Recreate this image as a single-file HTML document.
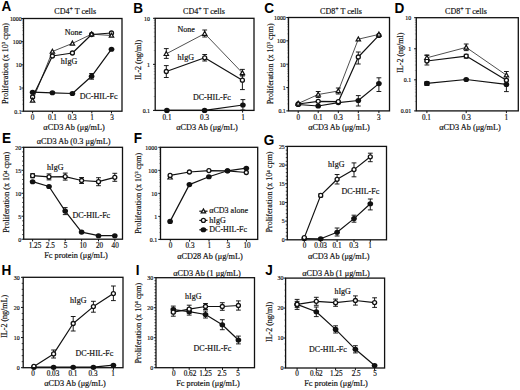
<!DOCTYPE html><html><head><meta charset="utf-8"><style>html,body{margin:0;padding:0;background:#fff;width:520px;height:390px;overflow:hidden}svg{display:block}</style></head><body>
<svg width="520" height="390" viewBox="0 0 520 390">
<style>text{stroke:#111;stroke-width:0.18px;paint-order:stroke}</style>
<rect width="520" height="390" fill="#fff"/>
<line x1="32.6" y1="111.2" x2="32.6" y2="113.4" stroke="#111" stroke-width="1"/>
<text x="32.5" y="120.4" font-size="7.2" text-anchor="middle" font-weight="normal" font-family='"Liberation Serif", serif' fill="#111">0</text>
<line x1="52.4" y1="111.2" x2="52.4" y2="113.4" stroke="#111" stroke-width="1"/>
<text x="52.4" y="120.4" font-size="7.2" text-anchor="middle" font-weight="normal" font-family='"Liberation Serif", serif' fill="#111">0.1</text>
<line x1="72.4" y1="111.2" x2="72.4" y2="113.4" stroke="#111" stroke-width="1"/>
<text x="72.2" y="120.4" font-size="7.2" text-anchor="middle" font-weight="normal" font-family='"Liberation Serif", serif' fill="#111">0.3</text>
<line x1="91.8" y1="111.2" x2="91.8" y2="113.4" stroke="#111" stroke-width="1"/>
<text x="92" y="120.4" font-size="7.2" text-anchor="middle" font-weight="normal" font-family='"Liberation Serif", serif' fill="#111">1</text>
<line x1="111.5" y1="111.2" x2="111.5" y2="113.4" stroke="#111" stroke-width="1"/>
<text x="112" y="120.4" font-size="7.2" text-anchor="middle" font-weight="normal" font-family='"Liberation Serif", serif' fill="#111">3</text>
<line x1="21.3" y1="111.2" x2="23.5" y2="111.2" stroke="#111" stroke-width="1"/>
<text x="21.7" y="113.5" font-size="5.9" text-anchor="end" font-weight="normal" font-family='"Liberation Serif", serif' fill="#111">0.1</text>
<line x1="21.3" y1="88.03" x2="23.5" y2="88.03" stroke="#111" stroke-width="1"/>
<text x="21.7" y="90.33" font-size="5.9" text-anchor="end" font-weight="normal" font-family='"Liberation Serif", serif' fill="#111">1</text>
<line x1="21.3" y1="64.85" x2="23.5" y2="64.85" stroke="#111" stroke-width="1"/>
<text x="21.7" y="67.15" font-size="5.9" text-anchor="end" font-weight="normal" font-family='"Liberation Serif", serif' fill="#111">10</text>
<line x1="21.3" y1="41.67" x2="23.5" y2="41.67" stroke="#111" stroke-width="1"/>
<text x="21.7" y="43.97" font-size="5.9" text-anchor="end" font-weight="normal" font-family='"Liberation Serif", serif' fill="#111">100</text>
<line x1="21.3" y1="18.5" x2="23.5" y2="18.5" stroke="#111" stroke-width="1"/>
<text x="21.7" y="20.8" font-size="5.9" text-anchor="end" font-weight="normal" font-family='"Liberation Serif", serif' fill="#111">1000</text>
<line x1="22" y1="104.22" x2="23.5" y2="104.22" stroke="#999" stroke-width="0.6"/>
<line x1="22" y1="100.14" x2="23.5" y2="100.14" stroke="#999" stroke-width="0.6"/>
<line x1="22" y1="97.25" x2="23.5" y2="97.25" stroke="#999" stroke-width="0.6"/>
<line x1="22" y1="95" x2="23.5" y2="95" stroke="#999" stroke-width="0.6"/>
<line x1="22" y1="93.17" x2="23.5" y2="93.17" stroke="#999" stroke-width="0.6"/>
<line x1="22" y1="91.61" x2="23.5" y2="91.61" stroke="#999" stroke-width="0.6"/>
<line x1="22" y1="90.27" x2="23.5" y2="90.27" stroke="#999" stroke-width="0.6"/>
<line x1="22" y1="89.09" x2="23.5" y2="89.09" stroke="#999" stroke-width="0.6"/>
<line x1="22" y1="81.05" x2="23.5" y2="81.05" stroke="#999" stroke-width="0.6"/>
<line x1="22" y1="76.97" x2="23.5" y2="76.97" stroke="#999" stroke-width="0.6"/>
<line x1="22" y1="74.07" x2="23.5" y2="74.07" stroke="#999" stroke-width="0.6"/>
<line x1="22" y1="71.83" x2="23.5" y2="71.83" stroke="#999" stroke-width="0.6"/>
<line x1="22" y1="69.99" x2="23.5" y2="69.99" stroke="#999" stroke-width="0.6"/>
<line x1="22" y1="68.44" x2="23.5" y2="68.44" stroke="#999" stroke-width="0.6"/>
<line x1="22" y1="67.1" x2="23.5" y2="67.1" stroke="#999" stroke-width="0.6"/>
<line x1="22" y1="65.91" x2="23.5" y2="65.91" stroke="#999" stroke-width="0.6"/>
<line x1="22" y1="57.87" x2="23.5" y2="57.87" stroke="#999" stroke-width="0.6"/>
<line x1="22" y1="53.79" x2="23.5" y2="53.79" stroke="#999" stroke-width="0.6"/>
<line x1="22" y1="50.9" x2="23.5" y2="50.9" stroke="#999" stroke-width="0.6"/>
<line x1="22" y1="48.65" x2="23.5" y2="48.65" stroke="#999" stroke-width="0.6"/>
<line x1="22" y1="46.82" x2="23.5" y2="46.82" stroke="#999" stroke-width="0.6"/>
<line x1="22" y1="45.26" x2="23.5" y2="45.26" stroke="#999" stroke-width="0.6"/>
<line x1="22" y1="43.92" x2="23.5" y2="43.92" stroke="#999" stroke-width="0.6"/>
<line x1="22" y1="42.74" x2="23.5" y2="42.74" stroke="#999" stroke-width="0.6"/>
<line x1="22" y1="34.7" x2="23.5" y2="34.7" stroke="#999" stroke-width="0.6"/>
<line x1="22" y1="30.62" x2="23.5" y2="30.62" stroke="#999" stroke-width="0.6"/>
<line x1="22" y1="27.72" x2="23.5" y2="27.72" stroke="#999" stroke-width="0.6"/>
<line x1="22" y1="25.48" x2="23.5" y2="25.48" stroke="#999" stroke-width="0.6"/>
<line x1="22" y1="23.64" x2="23.5" y2="23.64" stroke="#999" stroke-width="0.6"/>
<line x1="22" y1="22.09" x2="23.5" y2="22.09" stroke="#999" stroke-width="0.6"/>
<line x1="22" y1="20.75" x2="23.5" y2="20.75" stroke="#999" stroke-width="0.6"/>
<line x1="22" y1="19.56" x2="23.5" y2="19.56" stroke="#999" stroke-width="0.6"/>
<polyline points="32.6,100.5 52.4,51.5 72.4,43.4 91.6,34.2 111.5,35.5" fill="none" stroke="#505050" stroke-width="1.0" stroke-linejoin="round"/>
<polyline points="32.6,97 52.4,56 72.4,53 91.6,34.5 111.5,33" fill="none" stroke="#111" stroke-width="1.2" stroke-linejoin="round"/>
<polyline points="32.6,92.2 52.4,92.8 72.4,93.5 91.6,76.3 111.5,49.2" fill="none" stroke="#111" stroke-width="1.2" stroke-linejoin="round"/>
<line x1="91.6" y1="73.5" x2="91.6" y2="79.2" stroke="#111" stroke-width="0.95"/>
<line x1="89.2" y1="73.5" x2="94" y2="73.5" stroke="#111" stroke-width="0.95"/>
<line x1="89.2" y1="79.2" x2="94" y2="79.2" stroke="#111" stroke-width="0.95"/>
<circle cx="32.6" cy="97" r="2" fill="#fff" stroke="#111" stroke-width="1.3"/>
<circle cx="52.4" cy="56" r="2" fill="#fff" stroke="#111" stroke-width="1.3"/>
<circle cx="72.4" cy="53" r="2" fill="#fff" stroke="#111" stroke-width="1.3"/>
<circle cx="91.6" cy="34.5" r="2" fill="#fff" stroke="#111" stroke-width="1.3"/>
<circle cx="111.5" cy="33" r="2" fill="#fff" stroke="#111" stroke-width="1.3"/>
<ellipse cx="32.6" cy="92.2" rx="2.85" ry="2.55" fill="#111"/>
<ellipse cx="52.4" cy="92.8" rx="2.85" ry="2.55" fill="#111"/>
<ellipse cx="72.4" cy="93.5" rx="2.85" ry="2.55" fill="#111"/>
<ellipse cx="91.6" cy="76.3" rx="2.85" ry="2.55" fill="#111"/>
<ellipse cx="111.5" cy="49.2" rx="2.85" ry="2.55" fill="#111"/>
<polygon points="32.6,98.2 34.8,102.2 30.4,102.2" fill="#fff" stroke="#111" stroke-width="1.2" stroke-linejoin="miter"/>
<polygon points="52.4,49.2 54.6,53.2 50.2,53.2" fill="#fff" stroke="#111" stroke-width="1.2" stroke-linejoin="miter"/>
<polygon points="72.4,41.1 74.6,45.1 70.2,45.1" fill="#fff" stroke="#111" stroke-width="1.2" stroke-linejoin="miter"/>
<polygon points="91.6,31.9 93.8,35.9 89.4,35.9" fill="#fff" stroke="#111" stroke-width="1.2" stroke-linejoin="miter"/>
<polygon points="111.5,33.2 113.7,37.2 109.3,37.2" fill="#fff" stroke="#111" stroke-width="1.2" stroke-linejoin="miter"/>
<rect x="23.5" y="18.5" width="98.5" height="92.7" fill="none" stroke="#111" stroke-width="1.3"/>
<text x="64.7" y="34.6" font-size="8" text-anchor="start" font-weight="normal" font-family='"Liberation Serif", serif' fill="#111">None</text>
<text x="60.8" y="63.8" font-size="8" text-anchor="start" font-weight="normal" font-family='"Liberation Serif", serif' fill="#111">hIgG</text>
<text x="79.7" y="99" font-size="8" text-anchor="start" font-weight="normal" font-family='"Liberation Serif", serif' fill="#111">DC-HIL-Fc</text>
<line x1="166.5" y1="110.4" x2="166.5" y2="112.6" stroke="#111" stroke-width="1"/>
<text x="167" y="119.9" font-size="7.2" text-anchor="middle" font-weight="normal" font-family='"Liberation Serif", serif' fill="#111">0.1</text>
<line x1="204.7" y1="110.4" x2="204.7" y2="112.6" stroke="#111" stroke-width="1"/>
<text x="204.6" y="119.9" font-size="7.2" text-anchor="middle" font-weight="normal" font-family='"Liberation Serif", serif' fill="#111">0.3</text>
<line x1="242.6" y1="110.4" x2="242.6" y2="112.6" stroke="#111" stroke-width="1"/>
<text x="243" y="119.9" font-size="7.2" text-anchor="middle" font-weight="normal" font-family='"Liberation Serif", serif' fill="#111">1</text>
<line x1="153" y1="110.4" x2="155.2" y2="110.4" stroke="#111" stroke-width="1"/>
<text x="150" y="112.7" font-size="5.9" text-anchor="end" font-weight="normal" font-family='"Liberation Serif", serif' fill="#111">0.1</text>
<line x1="153" y1="64.35" x2="155.2" y2="64.35" stroke="#111" stroke-width="1"/>
<text x="150" y="66.65" font-size="5.9" text-anchor="end" font-weight="normal" font-family='"Liberation Serif", serif' fill="#111">1</text>
<line x1="153" y1="18.3" x2="155.2" y2="18.3" stroke="#111" stroke-width="1"/>
<text x="150" y="20.6" font-size="5.9" text-anchor="end" font-weight="normal" font-family='"Liberation Serif", serif' fill="#111">10</text>
<line x1="153.7" y1="96.54" x2="155.2" y2="96.54" stroke="#999" stroke-width="0.6"/>
<line x1="153.7" y1="88.43" x2="155.2" y2="88.43" stroke="#999" stroke-width="0.6"/>
<line x1="153.7" y1="82.68" x2="155.2" y2="82.68" stroke="#999" stroke-width="0.6"/>
<line x1="153.7" y1="78.21" x2="155.2" y2="78.21" stroke="#999" stroke-width="0.6"/>
<line x1="153.7" y1="74.57" x2="155.2" y2="74.57" stroke="#999" stroke-width="0.6"/>
<line x1="153.7" y1="71.48" x2="155.2" y2="71.48" stroke="#999" stroke-width="0.6"/>
<line x1="153.7" y1="68.81" x2="155.2" y2="68.81" stroke="#999" stroke-width="0.6"/>
<line x1="153.7" y1="66.46" x2="155.2" y2="66.46" stroke="#999" stroke-width="0.6"/>
<line x1="153.7" y1="50.49" x2="155.2" y2="50.49" stroke="#999" stroke-width="0.6"/>
<line x1="153.7" y1="42.38" x2="155.2" y2="42.38" stroke="#999" stroke-width="0.6"/>
<line x1="153.7" y1="36.63" x2="155.2" y2="36.63" stroke="#999" stroke-width="0.6"/>
<line x1="153.7" y1="32.16" x2="155.2" y2="32.16" stroke="#999" stroke-width="0.6"/>
<line x1="153.7" y1="28.52" x2="155.2" y2="28.52" stroke="#999" stroke-width="0.6"/>
<line x1="153.7" y1="25.43" x2="155.2" y2="25.43" stroke="#999" stroke-width="0.6"/>
<line x1="153.7" y1="22.76" x2="155.2" y2="22.76" stroke="#999" stroke-width="0.6"/>
<line x1="153.7" y1="20.41" x2="155.2" y2="20.41" stroke="#999" stroke-width="0.6"/>
<polyline points="166.3,53.8 204.7,33.6 242.4,72.9" fill="none" stroke="#505050" stroke-width="1.0" stroke-linejoin="round"/>
<polyline points="166.3,71.5 204.7,57.8 242.4,80.2" fill="none" stroke="#111" stroke-width="1.2" stroke-linejoin="round"/>
<polyline points="166.9,110.4 204.6,110.4 242.9,105" fill="none" stroke="#111" stroke-width="1.2" stroke-linejoin="round"/>
<line x1="166.3" y1="48.6" x2="166.3" y2="58.4" stroke="#111" stroke-width="0.95"/>
<line x1="163.9" y1="48.6" x2="168.7" y2="48.6" stroke="#111" stroke-width="0.95"/>
<line x1="163.9" y1="58.4" x2="168.7" y2="58.4" stroke="#111" stroke-width="0.95"/>
<line x1="204.7" y1="30" x2="204.7" y2="37" stroke="#111" stroke-width="0.95"/>
<line x1="202.3" y1="30" x2="207.1" y2="30" stroke="#111" stroke-width="0.95"/>
<line x1="202.3" y1="37" x2="207.1" y2="37" stroke="#111" stroke-width="0.95"/>
<line x1="242.4" y1="69.4" x2="242.4" y2="76" stroke="#111" stroke-width="0.95"/>
<line x1="240" y1="69.4" x2="244.8" y2="69.4" stroke="#111" stroke-width="0.95"/>
<line x1="240" y1="76" x2="244.8" y2="76" stroke="#111" stroke-width="0.95"/>
<line x1="166.3" y1="65.6" x2="166.3" y2="77.5" stroke="#111" stroke-width="0.95"/>
<line x1="163.9" y1="65.6" x2="168.7" y2="65.6" stroke="#111" stroke-width="0.95"/>
<line x1="163.9" y1="77.5" x2="168.7" y2="77.5" stroke="#111" stroke-width="0.95"/>
<line x1="204.7" y1="54.5" x2="204.7" y2="61" stroke="#111" stroke-width="0.95"/>
<line x1="202.3" y1="54.5" x2="207.1" y2="54.5" stroke="#111" stroke-width="0.95"/>
<line x1="202.3" y1="61" x2="207.1" y2="61" stroke="#111" stroke-width="0.95"/>
<line x1="242.4" y1="75" x2="242.4" y2="89.6" stroke="#111" stroke-width="0.95"/>
<line x1="240" y1="75" x2="244.8" y2="75" stroke="#111" stroke-width="0.95"/>
<line x1="240" y1="89.6" x2="244.8" y2="89.6" stroke="#111" stroke-width="0.95"/>
<line x1="242.9" y1="99.6" x2="242.9" y2="110" stroke="#111" stroke-width="0.95"/>
<line x1="240.5" y1="99.6" x2="245.3" y2="99.6" stroke="#111" stroke-width="0.95"/>
<line x1="240.5" y1="110" x2="245.3" y2="110" stroke="#111" stroke-width="0.95"/>
<circle cx="166.3" cy="71.5" r="2" fill="#fff" stroke="#111" stroke-width="1.3"/>
<circle cx="204.7" cy="57.8" r="2" fill="#fff" stroke="#111" stroke-width="1.3"/>
<circle cx="242.4" cy="80.2" r="2" fill="#fff" stroke="#111" stroke-width="1.3"/>
<ellipse cx="166.9" cy="110.4" rx="2.85" ry="2.55" fill="#111"/>
<ellipse cx="204.6" cy="110.4" rx="2.85" ry="2.55" fill="#111"/>
<ellipse cx="242.9" cy="105" rx="2.85" ry="2.55" fill="#111"/>
<polygon points="166.3,51.5 168.5,55.5 164.1,55.5" fill="#fff" stroke="#111" stroke-width="1.2" stroke-linejoin="miter"/>
<polygon points="204.7,31.3 206.9,35.3 202.5,35.3" fill="#fff" stroke="#111" stroke-width="1.2" stroke-linejoin="miter"/>
<polygon points="242.4,70.6 244.6,74.6 240.2,74.6" fill="#fff" stroke="#111" stroke-width="1.2" stroke-linejoin="miter"/>
<rect x="155.2" y="18.3" width="98.8" height="92.1" fill="none" stroke="#111" stroke-width="1.3"/>
<text x="177.5" y="31.8" font-size="8" text-anchor="start" font-weight="normal" font-family='"Liberation Serif", serif' fill="#111">None</text>
<text x="177.5" y="59.5" font-size="8" text-anchor="start" font-weight="normal" font-family='"Liberation Serif", serif' fill="#111">hIgG</text>
<text x="193" y="99.5" font-size="8" text-anchor="start" font-weight="normal" font-family='"Liberation Serif", serif' fill="#111">DC-HIL-Fc</text>
<line x1="298.2" y1="110.9" x2="298.2" y2="113.1" stroke="#111" stroke-width="1"/>
<text x="298.3" y="120.1" font-size="7.2" text-anchor="middle" font-weight="normal" font-family='"Liberation Serif", serif' fill="#111">0</text>
<line x1="318.2" y1="110.9" x2="318.2" y2="113.1" stroke="#111" stroke-width="1"/>
<text x="318.1" y="120.1" font-size="7.2" text-anchor="middle" font-weight="normal" font-family='"Liberation Serif", serif' fill="#111">0.1</text>
<line x1="338.3" y1="110.9" x2="338.3" y2="113.1" stroke="#111" stroke-width="1"/>
<text x="338.3" y="120.1" font-size="7.2" text-anchor="middle" font-weight="normal" font-family='"Liberation Serif", serif' fill="#111">0.3</text>
<line x1="358.3" y1="110.9" x2="358.3" y2="113.1" stroke="#111" stroke-width="1"/>
<text x="358.6" y="120.1" font-size="7.2" text-anchor="middle" font-weight="normal" font-family='"Liberation Serif", serif' fill="#111">1</text>
<line x1="378.9" y1="110.9" x2="378.9" y2="113.1" stroke="#111" stroke-width="1"/>
<text x="378.8" y="120.1" font-size="7.2" text-anchor="middle" font-weight="normal" font-family='"Liberation Serif", serif' fill="#111">3</text>
<line x1="286.3" y1="110.9" x2="288.5" y2="110.9" stroke="#111" stroke-width="1"/>
<text x="285.8" y="113.2" font-size="5.9" text-anchor="end" font-weight="normal" font-family='"Liberation Serif", serif' fill="#111">0.1</text>
<line x1="286.3" y1="87.55" x2="288.5" y2="87.55" stroke="#111" stroke-width="1"/>
<text x="285.8" y="89.85" font-size="5.9" text-anchor="end" font-weight="normal" font-family='"Liberation Serif", serif' fill="#111">1</text>
<line x1="286.3" y1="64.2" x2="288.5" y2="64.2" stroke="#111" stroke-width="1"/>
<text x="285.8" y="66.5" font-size="5.9" text-anchor="end" font-weight="normal" font-family='"Liberation Serif", serif' fill="#111">10</text>
<line x1="286.3" y1="40.85" x2="288.5" y2="40.85" stroke="#111" stroke-width="1"/>
<text x="285.8" y="43.15" font-size="5.9" text-anchor="end" font-weight="normal" font-family='"Liberation Serif", serif' fill="#111">100</text>
<line x1="286.3" y1="17.5" x2="288.5" y2="17.5" stroke="#111" stroke-width="1"/>
<text x="285.8" y="19.8" font-size="5.9" text-anchor="end" font-weight="normal" font-family='"Liberation Serif", serif' fill="#111">1000</text>
<line x1="287" y1="103.87" x2="288.5" y2="103.87" stroke="#999" stroke-width="0.6"/>
<line x1="287" y1="99.76" x2="288.5" y2="99.76" stroke="#999" stroke-width="0.6"/>
<line x1="287" y1="96.84" x2="288.5" y2="96.84" stroke="#999" stroke-width="0.6"/>
<line x1="287" y1="94.58" x2="288.5" y2="94.58" stroke="#999" stroke-width="0.6"/>
<line x1="287" y1="92.73" x2="288.5" y2="92.73" stroke="#999" stroke-width="0.6"/>
<line x1="287" y1="91.17" x2="288.5" y2="91.17" stroke="#999" stroke-width="0.6"/>
<line x1="287" y1="89.81" x2="288.5" y2="89.81" stroke="#999" stroke-width="0.6"/>
<line x1="287" y1="88.62" x2="288.5" y2="88.62" stroke="#999" stroke-width="0.6"/>
<line x1="287" y1="80.52" x2="288.5" y2="80.52" stroke="#999" stroke-width="0.6"/>
<line x1="287" y1="76.41" x2="288.5" y2="76.41" stroke="#999" stroke-width="0.6"/>
<line x1="287" y1="73.49" x2="288.5" y2="73.49" stroke="#999" stroke-width="0.6"/>
<line x1="287" y1="71.23" x2="288.5" y2="71.23" stroke="#999" stroke-width="0.6"/>
<line x1="287" y1="69.38" x2="288.5" y2="69.38" stroke="#999" stroke-width="0.6"/>
<line x1="287" y1="67.82" x2="288.5" y2="67.82" stroke="#999" stroke-width="0.6"/>
<line x1="287" y1="66.46" x2="288.5" y2="66.46" stroke="#999" stroke-width="0.6"/>
<line x1="287" y1="65.27" x2="288.5" y2="65.27" stroke="#999" stroke-width="0.6"/>
<line x1="287" y1="57.17" x2="288.5" y2="57.17" stroke="#999" stroke-width="0.6"/>
<line x1="287" y1="53.06" x2="288.5" y2="53.06" stroke="#999" stroke-width="0.6"/>
<line x1="287" y1="50.14" x2="288.5" y2="50.14" stroke="#999" stroke-width="0.6"/>
<line x1="287" y1="47.88" x2="288.5" y2="47.88" stroke="#999" stroke-width="0.6"/>
<line x1="287" y1="46.03" x2="288.5" y2="46.03" stroke="#999" stroke-width="0.6"/>
<line x1="287" y1="44.47" x2="288.5" y2="44.47" stroke="#999" stroke-width="0.6"/>
<line x1="287" y1="43.11" x2="288.5" y2="43.11" stroke="#999" stroke-width="0.6"/>
<line x1="287" y1="41.92" x2="288.5" y2="41.92" stroke="#999" stroke-width="0.6"/>
<line x1="287" y1="33.82" x2="288.5" y2="33.82" stroke="#999" stroke-width="0.6"/>
<line x1="287" y1="29.71" x2="288.5" y2="29.71" stroke="#999" stroke-width="0.6"/>
<line x1="287" y1="26.79" x2="288.5" y2="26.79" stroke="#999" stroke-width="0.6"/>
<line x1="287" y1="24.53" x2="288.5" y2="24.53" stroke="#999" stroke-width="0.6"/>
<line x1="287" y1="22.68" x2="288.5" y2="22.68" stroke="#999" stroke-width="0.6"/>
<line x1="287" y1="21.12" x2="288.5" y2="21.12" stroke="#999" stroke-width="0.6"/>
<line x1="287" y1="19.76" x2="288.5" y2="19.76" stroke="#999" stroke-width="0.6"/>
<line x1="287" y1="18.57" x2="288.5" y2="18.57" stroke="#999" stroke-width="0.6"/>
<polyline points="298.2,103.5 318.2,94.5 338.3,91 358.3,39.2 378.9,34.4" fill="none" stroke="#505050" stroke-width="1.0" stroke-linejoin="round"/>
<polyline points="298.2,104 318.2,101.3 338.3,101.7 358.3,57 378.9,35.4" fill="none" stroke="#111" stroke-width="1.2" stroke-linejoin="round"/>
<polyline points="298.2,104.5 318.2,106 338.3,102.6 358.3,100.5 378.9,83.6" fill="none" stroke="#111" stroke-width="1.2" stroke-linejoin="round"/>
<line x1="318.2" y1="91.5" x2="318.2" y2="97.5" stroke="#111" stroke-width="0.95"/>
<line x1="315.8" y1="91.5" x2="320.6" y2="91.5" stroke="#111" stroke-width="0.95"/>
<line x1="315.8" y1="97.5" x2="320.6" y2="97.5" stroke="#111" stroke-width="0.95"/>
<line x1="338.3" y1="88" x2="338.3" y2="94" stroke="#111" stroke-width="0.95"/>
<line x1="335.9" y1="88" x2="340.7" y2="88" stroke="#111" stroke-width="0.95"/>
<line x1="335.9" y1="94" x2="340.7" y2="94" stroke="#111" stroke-width="0.95"/>
<line x1="358.3" y1="52" x2="358.3" y2="64" stroke="#111" stroke-width="0.95"/>
<line x1="355.9" y1="52" x2="360.7" y2="52" stroke="#111" stroke-width="0.95"/>
<line x1="355.9" y1="64" x2="360.7" y2="64" stroke="#111" stroke-width="0.95"/>
<line x1="358.3" y1="95.6" x2="358.3" y2="106" stroke="#111" stroke-width="0.95"/>
<line x1="355.9" y1="95.6" x2="360.7" y2="95.6" stroke="#111" stroke-width="0.95"/>
<line x1="355.9" y1="106" x2="360.7" y2="106" stroke="#111" stroke-width="0.95"/>
<line x1="378.9" y1="77.8" x2="378.9" y2="91.5" stroke="#111" stroke-width="0.95"/>
<line x1="376.5" y1="77.8" x2="381.3" y2="77.8" stroke="#111" stroke-width="0.95"/>
<line x1="376.5" y1="91.5" x2="381.3" y2="91.5" stroke="#111" stroke-width="0.95"/>
<ellipse cx="298.2" cy="104.5" rx="2.85" ry="2.55" fill="#111"/>
<ellipse cx="318.2" cy="106" rx="2.85" ry="2.55" fill="#111"/>
<ellipse cx="338.3" cy="102.6" rx="2.85" ry="2.55" fill="#111"/>
<ellipse cx="358.3" cy="100.5" rx="2.85" ry="2.55" fill="#111"/>
<ellipse cx="378.9" cy="83.6" rx="2.85" ry="2.55" fill="#111"/>
<circle cx="298.2" cy="104" r="2" fill="#fff" stroke="#111" stroke-width="1.3"/>
<circle cx="318.2" cy="101.3" r="2" fill="#fff" stroke="#111" stroke-width="1.3"/>
<circle cx="338.3" cy="101.7" r="2" fill="#fff" stroke="#111" stroke-width="1.3"/>
<circle cx="358.3" cy="57" r="2" fill="#fff" stroke="#111" stroke-width="1.3"/>
<circle cx="378.9" cy="35.4" r="2" fill="#fff" stroke="#111" stroke-width="1.3"/>
<polygon points="298.2,101.2 300.4,105.2 296,105.2" fill="#fff" stroke="#111" stroke-width="1.2" stroke-linejoin="miter"/>
<polygon points="318.2,92.2 320.4,96.2 316,96.2" fill="#fff" stroke="#111" stroke-width="1.2" stroke-linejoin="miter"/>
<polygon points="338.3,88.7 340.5,92.7 336.1,92.7" fill="#fff" stroke="#111" stroke-width="1.2" stroke-linejoin="miter"/>
<polygon points="358.3,36.9 360.5,40.9 356.1,40.9" fill="#fff" stroke="#111" stroke-width="1.2" stroke-linejoin="miter"/>
<polygon points="378.9,32.1 381.1,36.1 376.7,36.1" fill="#fff" stroke="#111" stroke-width="1.2" stroke-linejoin="miter"/>
<rect x="288.5" y="17.5" width="101" height="93.4" fill="none" stroke="#111" stroke-width="1.3"/>
<line x1="426.9" y1="110.9" x2="426.9" y2="113.1" stroke="#111" stroke-width="1"/>
<text x="426.4" y="119.9" font-size="7.2" text-anchor="middle" font-weight="normal" font-family='"Liberation Serif", serif' fill="#111">0.1</text>
<line x1="466.2" y1="110.9" x2="466.2" y2="113.1" stroke="#111" stroke-width="1"/>
<text x="466.3" y="119.9" font-size="7.2" text-anchor="middle" font-weight="normal" font-family='"Liberation Serif", serif' fill="#111">0.3</text>
<line x1="506.4" y1="110.9" x2="506.4" y2="113.1" stroke="#111" stroke-width="1"/>
<text x="506.3" y="119.9" font-size="7.2" text-anchor="middle" font-weight="normal" font-family='"Liberation Serif", serif' fill="#111">1</text>
<line x1="414.1" y1="110.9" x2="416.3" y2="110.9" stroke="#111" stroke-width="1"/>
<text x="411.1" y="113.2" font-size="5.9" text-anchor="end" font-weight="normal" font-family='"Liberation Serif", serif' fill="#111">0.01</text>
<line x1="414.1" y1="79.83" x2="416.3" y2="79.83" stroke="#111" stroke-width="1"/>
<text x="411.1" y="82.13" font-size="5.9" text-anchor="end" font-weight="normal" font-family='"Liberation Serif", serif' fill="#111">0.1</text>
<line x1="414.1" y1="48.77" x2="416.3" y2="48.77" stroke="#111" stroke-width="1"/>
<text x="411.1" y="51.07" font-size="5.9" text-anchor="end" font-weight="normal" font-family='"Liberation Serif", serif' fill="#111">1</text>
<line x1="414.1" y1="17.7" x2="416.3" y2="17.7" stroke="#111" stroke-width="1"/>
<text x="411.1" y="20" font-size="5.9" text-anchor="end" font-weight="normal" font-family='"Liberation Serif", serif' fill="#111">10</text>
<line x1="414.8" y1="101.55" x2="416.3" y2="101.55" stroke="#999" stroke-width="0.6"/>
<line x1="414.8" y1="96.08" x2="416.3" y2="96.08" stroke="#999" stroke-width="0.6"/>
<line x1="414.8" y1="92.2" x2="416.3" y2="92.2" stroke="#999" stroke-width="0.6"/>
<line x1="414.8" y1="89.19" x2="416.3" y2="89.19" stroke="#999" stroke-width="0.6"/>
<line x1="414.8" y1="86.73" x2="416.3" y2="86.73" stroke="#999" stroke-width="0.6"/>
<line x1="414.8" y1="84.65" x2="416.3" y2="84.65" stroke="#999" stroke-width="0.6"/>
<line x1="414.8" y1="82.84" x2="416.3" y2="82.84" stroke="#999" stroke-width="0.6"/>
<line x1="414.8" y1="81.25" x2="416.3" y2="81.25" stroke="#999" stroke-width="0.6"/>
<line x1="414.8" y1="70.48" x2="416.3" y2="70.48" stroke="#999" stroke-width="0.6"/>
<line x1="414.8" y1="65.01" x2="416.3" y2="65.01" stroke="#999" stroke-width="0.6"/>
<line x1="414.8" y1="61.13" x2="416.3" y2="61.13" stroke="#999" stroke-width="0.6"/>
<line x1="414.8" y1="58.12" x2="416.3" y2="58.12" stroke="#999" stroke-width="0.6"/>
<line x1="414.8" y1="55.66" x2="416.3" y2="55.66" stroke="#999" stroke-width="0.6"/>
<line x1="414.8" y1="53.58" x2="416.3" y2="53.58" stroke="#999" stroke-width="0.6"/>
<line x1="414.8" y1="51.78" x2="416.3" y2="51.78" stroke="#999" stroke-width="0.6"/>
<line x1="414.8" y1="50.19" x2="416.3" y2="50.19" stroke="#999" stroke-width="0.6"/>
<line x1="414.8" y1="39.41" x2="416.3" y2="39.41" stroke="#999" stroke-width="0.6"/>
<line x1="414.8" y1="33.94" x2="416.3" y2="33.94" stroke="#999" stroke-width="0.6"/>
<line x1="414.8" y1="30.06" x2="416.3" y2="30.06" stroke="#999" stroke-width="0.6"/>
<line x1="414.8" y1="27.05" x2="416.3" y2="27.05" stroke="#999" stroke-width="0.6"/>
<line x1="414.8" y1="24.59" x2="416.3" y2="24.59" stroke="#999" stroke-width="0.6"/>
<line x1="414.8" y1="22.51" x2="416.3" y2="22.51" stroke="#999" stroke-width="0.6"/>
<line x1="414.8" y1="20.71" x2="416.3" y2="20.71" stroke="#999" stroke-width="0.6"/>
<line x1="414.8" y1="19.12" x2="416.3" y2="19.12" stroke="#999" stroke-width="0.6"/>
<polyline points="426.9,57.8 466.2,47.4 506.4,75.2" fill="none" stroke="#505050" stroke-width="1.0" stroke-linejoin="round"/>
<polyline points="426.9,61 466.2,56.1 506.4,80.3" fill="none" stroke="#111" stroke-width="1.2" stroke-linejoin="round"/>
<polyline points="426.9,83.4 466.2,79.5 506.4,84.4" fill="none" stroke="#111" stroke-width="1.2" stroke-linejoin="round"/>
<line x1="426.9" y1="55" x2="426.9" y2="61" stroke="#111" stroke-width="0.95"/>
<line x1="424.5" y1="55" x2="429.3" y2="55" stroke="#111" stroke-width="0.95"/>
<line x1="424.5" y1="61" x2="429.3" y2="61" stroke="#111" stroke-width="0.95"/>
<line x1="466.2" y1="44" x2="466.2" y2="50.6" stroke="#111" stroke-width="0.95"/>
<line x1="463.8" y1="44" x2="468.6" y2="44" stroke="#111" stroke-width="0.95"/>
<line x1="463.8" y1="50.6" x2="468.6" y2="50.6" stroke="#111" stroke-width="0.95"/>
<line x1="506.4" y1="71.5" x2="506.4" y2="79" stroke="#111" stroke-width="0.95"/>
<line x1="504" y1="71.5" x2="508.8" y2="71.5" stroke="#111" stroke-width="0.95"/>
<line x1="504" y1="79" x2="508.8" y2="79" stroke="#111" stroke-width="0.95"/>
<line x1="426.9" y1="55.4" x2="426.9" y2="65" stroke="#111" stroke-width="0.95"/>
<line x1="424.5" y1="55.4" x2="429.3" y2="55.4" stroke="#111" stroke-width="0.95"/>
<line x1="424.5" y1="65" x2="429.3" y2="65" stroke="#111" stroke-width="0.95"/>
<line x1="466.2" y1="54.3" x2="466.2" y2="58.2" stroke="#111" stroke-width="0.95"/>
<line x1="463.8" y1="54.3" x2="468.6" y2="54.3" stroke="#111" stroke-width="0.95"/>
<line x1="463.8" y1="58.2" x2="468.6" y2="58.2" stroke="#111" stroke-width="0.95"/>
<line x1="506.4" y1="79.5" x2="506.4" y2="91.6" stroke="#111" stroke-width="0.95"/>
<line x1="504" y1="79.5" x2="508.8" y2="79.5" stroke="#111" stroke-width="0.95"/>
<line x1="504" y1="91.6" x2="508.8" y2="91.6" stroke="#111" stroke-width="0.95"/>
<circle cx="426.9" cy="61" r="2" fill="#fff" stroke="#111" stroke-width="1.3"/>
<circle cx="466.2" cy="56.1" r="2" fill="#fff" stroke="#111" stroke-width="1.3"/>
<circle cx="506.4" cy="80.3" r="2" fill="#fff" stroke="#111" stroke-width="1.3"/>
<ellipse cx="426.9" cy="83.4" rx="2.85" ry="2.55" fill="#111"/>
<ellipse cx="466.2" cy="79.5" rx="2.85" ry="2.55" fill="#111"/>
<ellipse cx="506.4" cy="84.4" rx="2.85" ry="2.55" fill="#111"/>
<rect x="424.4" y="81.2" width="5" height="4.8" fill="#111"/>
<polygon points="426.9,55.5 429.1,59.5 424.7,59.5" fill="#fff" stroke="#111" stroke-width="1.2" stroke-linejoin="miter"/>
<polygon points="466.2,45.1 468.4,49.1 464,49.1" fill="#fff" stroke="#111" stroke-width="1.2" stroke-linejoin="miter"/>
<polygon points="506.4,72.9 508.6,76.9 504.2,76.9" fill="#fff" stroke="#111" stroke-width="1.2" stroke-linejoin="miter"/>
<rect x="416.3" y="17.7" width="102" height="93.2" fill="none" stroke="#111" stroke-width="1.3"/>
<line x1="32.6" y1="239.2" x2="32.6" y2="241.4" stroke="#111" stroke-width="1"/>
<text x="35" y="247.8" font-size="7.2" text-anchor="middle" font-weight="normal" font-family='"Liberation Serif", serif' fill="#111">1.25</text>
<line x1="49" y1="239.2" x2="49" y2="241.4" stroke="#111" stroke-width="1"/>
<text x="50.3" y="247.8" font-size="7.2" text-anchor="middle" font-weight="normal" font-family='"Liberation Serif", serif' fill="#111">2.5</text>
<line x1="65.2" y1="239.2" x2="65.2" y2="241.4" stroke="#111" stroke-width="1"/>
<text x="65.5" y="247.8" font-size="7.2" text-anchor="middle" font-weight="normal" font-family='"Liberation Serif", serif' fill="#111">5</text>
<line x1="81.6" y1="239.2" x2="81.6" y2="241.4" stroke="#111" stroke-width="1"/>
<text x="83" y="247.8" font-size="7.2" text-anchor="middle" font-weight="normal" font-family='"Liberation Serif", serif' fill="#111">10</text>
<line x1="98.5" y1="239.2" x2="98.5" y2="241.4" stroke="#111" stroke-width="1"/>
<text x="99.5" y="247.8" font-size="7.2" text-anchor="middle" font-weight="normal" font-family='"Liberation Serif", serif' fill="#111">20</text>
<line x1="114.8" y1="239.2" x2="114.8" y2="241.4" stroke="#111" stroke-width="1"/>
<text x="115.2" y="247.8" font-size="7.2" text-anchor="middle" font-weight="normal" font-family='"Liberation Serif", serif' fill="#111">40</text>
<line x1="21.5" y1="239.2" x2="23.7" y2="239.2" stroke="#111" stroke-width="1"/>
<text x="21.2" y="241.5" font-size="5.9" text-anchor="end" font-weight="normal" font-family='"Liberation Serif", serif' fill="#111">0</text>
<line x1="21.5" y1="216.22" x2="23.7" y2="216.22" stroke="#111" stroke-width="1"/>
<text x="21.2" y="218.53" font-size="5.9" text-anchor="end" font-weight="normal" font-family='"Liberation Serif", serif' fill="#111">5</text>
<line x1="21.5" y1="193.25" x2="23.7" y2="193.25" stroke="#111" stroke-width="1"/>
<text x="21.2" y="195.55" font-size="5.9" text-anchor="end" font-weight="normal" font-family='"Liberation Serif", serif' fill="#111">10</text>
<line x1="21.5" y1="170.28" x2="23.7" y2="170.28" stroke="#111" stroke-width="1"/>
<text x="21.2" y="172.58" font-size="5.9" text-anchor="end" font-weight="normal" font-family='"Liberation Serif", serif' fill="#111">15</text>
<line x1="21.5" y1="147.3" x2="23.7" y2="147.3" stroke="#111" stroke-width="1"/>
<text x="21.2" y="149.6" font-size="5.9" text-anchor="end" font-weight="normal" font-family='"Liberation Serif", serif' fill="#111">20</text>
<line x1="22.2" y1="234.6" x2="23.7" y2="234.6" stroke="#111" stroke-width="0.8"/>
<line x1="22.2" y1="230.01" x2="23.7" y2="230.01" stroke="#111" stroke-width="0.8"/>
<line x1="22.2" y1="225.41" x2="23.7" y2="225.41" stroke="#111" stroke-width="0.8"/>
<line x1="22.2" y1="220.82" x2="23.7" y2="220.82" stroke="#111" stroke-width="0.8"/>
<line x1="22.2" y1="211.63" x2="23.7" y2="211.63" stroke="#111" stroke-width="0.8"/>
<line x1="22.2" y1="207.03" x2="23.7" y2="207.03" stroke="#111" stroke-width="0.8"/>
<line x1="22.2" y1="202.44" x2="23.7" y2="202.44" stroke="#111" stroke-width="0.8"/>
<line x1="22.2" y1="197.84" x2="23.7" y2="197.84" stroke="#111" stroke-width="0.8"/>
<line x1="22.2" y1="188.66" x2="23.7" y2="188.66" stroke="#111" stroke-width="0.8"/>
<line x1="22.2" y1="184.06" x2="23.7" y2="184.06" stroke="#111" stroke-width="0.8"/>
<line x1="22.2" y1="179.47" x2="23.7" y2="179.47" stroke="#111" stroke-width="0.8"/>
<line x1="22.2" y1="174.87" x2="23.7" y2="174.87" stroke="#111" stroke-width="0.8"/>
<line x1="22.2" y1="165.68" x2="23.7" y2="165.68" stroke="#111" stroke-width="0.8"/>
<line x1="22.2" y1="161.09" x2="23.7" y2="161.09" stroke="#111" stroke-width="0.8"/>
<line x1="22.2" y1="156.49" x2="23.7" y2="156.49" stroke="#111" stroke-width="0.8"/>
<line x1="22.2" y1="151.9" x2="23.7" y2="151.9" stroke="#111" stroke-width="0.8"/>
<polyline points="32.6,175.7 49,176.9 65.2,176.6 81.6,180.5 98.5,181.7 114.8,177.3" fill="none" stroke="#111" stroke-width="1.2" stroke-linejoin="round"/>
<polyline points="32.6,181.7 49,186.5 65.2,211.1 81.6,232.1 98.5,235.7 114.8,235.7" fill="none" stroke="#111" stroke-width="1.2" stroke-linejoin="round"/>
<line x1="32.6" y1="173.7" x2="32.6" y2="177.7" stroke="#111" stroke-width="0.95"/>
<line x1="30.2" y1="173.7" x2="35" y2="173.7" stroke="#111" stroke-width="0.95"/>
<line x1="30.2" y1="177.7" x2="35" y2="177.7" stroke="#111" stroke-width="0.95"/>
<line x1="49" y1="173.9" x2="49" y2="179.9" stroke="#111" stroke-width="0.95"/>
<line x1="46.6" y1="173.9" x2="51.4" y2="173.9" stroke="#111" stroke-width="0.95"/>
<line x1="46.6" y1="179.9" x2="51.4" y2="179.9" stroke="#111" stroke-width="0.95"/>
<line x1="65.2" y1="173.1" x2="65.2" y2="180.1" stroke="#111" stroke-width="0.95"/>
<line x1="62.8" y1="173.1" x2="67.6" y2="173.1" stroke="#111" stroke-width="0.95"/>
<line x1="62.8" y1="180.1" x2="67.6" y2="180.1" stroke="#111" stroke-width="0.95"/>
<line x1="81.6" y1="177.5" x2="81.6" y2="183.5" stroke="#111" stroke-width="0.95"/>
<line x1="79.2" y1="177.5" x2="84" y2="177.5" stroke="#111" stroke-width="0.95"/>
<line x1="79.2" y1="183.5" x2="84" y2="183.5" stroke="#111" stroke-width="0.95"/>
<line x1="98.5" y1="177.7" x2="98.5" y2="185.7" stroke="#111" stroke-width="0.95"/>
<line x1="96.1" y1="177.7" x2="100.9" y2="177.7" stroke="#111" stroke-width="0.95"/>
<line x1="96.1" y1="185.7" x2="100.9" y2="185.7" stroke="#111" stroke-width="0.95"/>
<line x1="114.8" y1="173.3" x2="114.8" y2="181.3" stroke="#111" stroke-width="0.95"/>
<line x1="112.4" y1="173.3" x2="117.2" y2="173.3" stroke="#111" stroke-width="0.95"/>
<line x1="112.4" y1="181.3" x2="117.2" y2="181.3" stroke="#111" stroke-width="0.95"/>
<line x1="65.2" y1="207.6" x2="65.2" y2="214.6" stroke="#111" stroke-width="0.95"/>
<line x1="62.8" y1="207.6" x2="67.6" y2="207.6" stroke="#111" stroke-width="0.95"/>
<line x1="62.8" y1="214.6" x2="67.6" y2="214.6" stroke="#111" stroke-width="0.95"/>
<circle cx="32.6" cy="175.7" r="2" fill="#fff" stroke="#111" stroke-width="1.3"/>
<circle cx="49" cy="176.9" r="2" fill="#fff" stroke="#111" stroke-width="1.3"/>
<circle cx="65.2" cy="176.6" r="2" fill="#fff" stroke="#111" stroke-width="1.3"/>
<circle cx="81.6" cy="180.5" r="2" fill="#fff" stroke="#111" stroke-width="1.3"/>
<circle cx="98.5" cy="181.7" r="2" fill="#fff" stroke="#111" stroke-width="1.3"/>
<circle cx="114.8" cy="177.3" r="2" fill="#fff" stroke="#111" stroke-width="1.3"/>
<ellipse cx="32.6" cy="181.7" rx="2.85" ry="2.55" fill="#111"/>
<ellipse cx="49" cy="186.5" rx="2.85" ry="2.55" fill="#111"/>
<ellipse cx="65.2" cy="211.1" rx="2.85" ry="2.55" fill="#111"/>
<ellipse cx="81.6" cy="232.1" rx="2.85" ry="2.55" fill="#111"/>
<ellipse cx="98.5" cy="235.7" rx="2.85" ry="2.55" fill="#111"/>
<ellipse cx="114.8" cy="235.7" rx="2.85" ry="2.55" fill="#111"/>
<rect x="23.7" y="147.3" width="98.8" height="91.9" fill="none" stroke="#111" stroke-width="1.3"/>
<text x="47" y="169.6" font-size="8" text-anchor="start" font-weight="normal" font-family='"Liberation Serif", serif' fill="#111">hIgG</text>
<text x="72.4" y="218.2" font-size="8" text-anchor="start" font-weight="normal" font-family='"Liberation Serif", serif' fill="#111">DC-HIL-Fc</text>
<line x1="170.3" y1="239.4" x2="170.3" y2="241.6" stroke="#111" stroke-width="1"/>
<text x="170.5" y="247.9" font-size="7.2" text-anchor="middle" font-weight="normal" font-family='"Liberation Serif", serif' fill="#111">0</text>
<line x1="189.6" y1="239.4" x2="189.6" y2="241.6" stroke="#111" stroke-width="1"/>
<text x="190" y="247.9" font-size="7.2" text-anchor="middle" font-weight="normal" font-family='"Liberation Serif", serif' fill="#111">0.3</text>
<line x1="209" y1="239.4" x2="209" y2="241.6" stroke="#111" stroke-width="1"/>
<text x="209.4" y="247.9" font-size="7.2" text-anchor="middle" font-weight="normal" font-family='"Liberation Serif", serif' fill="#111">1</text>
<line x1="227.6" y1="239.4" x2="227.6" y2="241.6" stroke="#111" stroke-width="1"/>
<text x="228.2" y="247.9" font-size="7.2" text-anchor="middle" font-weight="normal" font-family='"Liberation Serif", serif' fill="#111">3</text>
<line x1="246.4" y1="239.4" x2="246.4" y2="241.6" stroke="#111" stroke-width="1"/>
<text x="247" y="247.9" font-size="7.2" text-anchor="middle" font-weight="normal" font-family='"Liberation Serif", serif' fill="#111">10</text>
<line x1="158.3" y1="239.4" x2="160.5" y2="239.4" stroke="#111" stroke-width="1"/>
<text x="157.1" y="241.7" font-size="5.9" text-anchor="end" font-weight="normal" font-family='"Liberation Serif", serif' fill="#111">0.1</text>
<line x1="158.3" y1="216.38" x2="160.5" y2="216.38" stroke="#111" stroke-width="1"/>
<text x="157.1" y="218.68" font-size="5.9" text-anchor="end" font-weight="normal" font-family='"Liberation Serif", serif' fill="#111">1</text>
<line x1="158.3" y1="193.35" x2="160.5" y2="193.35" stroke="#111" stroke-width="1"/>
<text x="157.1" y="195.65" font-size="5.9" text-anchor="end" font-weight="normal" font-family='"Liberation Serif", serif' fill="#111">10</text>
<line x1="158.3" y1="170.33" x2="160.5" y2="170.33" stroke="#111" stroke-width="1"/>
<text x="157.1" y="172.63" font-size="5.9" text-anchor="end" font-weight="normal" font-family='"Liberation Serif", serif' fill="#111">100</text>
<line x1="158.3" y1="147.3" x2="160.5" y2="147.3" stroke="#111" stroke-width="1"/>
<text x="157.1" y="149.6" font-size="5.9" text-anchor="end" font-weight="normal" font-family='"Liberation Serif", serif' fill="#111">1000</text>
<line x1="159" y1="232.47" x2="160.5" y2="232.47" stroke="#999" stroke-width="0.6"/>
<line x1="159" y1="228.41" x2="160.5" y2="228.41" stroke="#999" stroke-width="0.6"/>
<line x1="159" y1="225.54" x2="160.5" y2="225.54" stroke="#999" stroke-width="0.6"/>
<line x1="159" y1="223.31" x2="160.5" y2="223.31" stroke="#999" stroke-width="0.6"/>
<line x1="159" y1="221.48" x2="160.5" y2="221.48" stroke="#999" stroke-width="0.6"/>
<line x1="159" y1="219.94" x2="160.5" y2="219.94" stroke="#999" stroke-width="0.6"/>
<line x1="159" y1="218.61" x2="160.5" y2="218.61" stroke="#999" stroke-width="0.6"/>
<line x1="159" y1="217.43" x2="160.5" y2="217.43" stroke="#999" stroke-width="0.6"/>
<line x1="159" y1="209.44" x2="160.5" y2="209.44" stroke="#999" stroke-width="0.6"/>
<line x1="159" y1="205.39" x2="160.5" y2="205.39" stroke="#999" stroke-width="0.6"/>
<line x1="159" y1="202.51" x2="160.5" y2="202.51" stroke="#999" stroke-width="0.6"/>
<line x1="159" y1="200.28" x2="160.5" y2="200.28" stroke="#999" stroke-width="0.6"/>
<line x1="159" y1="198.46" x2="160.5" y2="198.46" stroke="#999" stroke-width="0.6"/>
<line x1="159" y1="196.92" x2="160.5" y2="196.92" stroke="#999" stroke-width="0.6"/>
<line x1="159" y1="195.58" x2="160.5" y2="195.58" stroke="#999" stroke-width="0.6"/>
<line x1="159" y1="194.4" x2="160.5" y2="194.4" stroke="#999" stroke-width="0.6"/>
<line x1="159" y1="186.42" x2="160.5" y2="186.42" stroke="#999" stroke-width="0.6"/>
<line x1="159" y1="182.36" x2="160.5" y2="182.36" stroke="#999" stroke-width="0.6"/>
<line x1="159" y1="179.49" x2="160.5" y2="179.49" stroke="#999" stroke-width="0.6"/>
<line x1="159" y1="177.26" x2="160.5" y2="177.26" stroke="#999" stroke-width="0.6"/>
<line x1="159" y1="175.43" x2="160.5" y2="175.43" stroke="#999" stroke-width="0.6"/>
<line x1="159" y1="173.89" x2="160.5" y2="173.89" stroke="#999" stroke-width="0.6"/>
<line x1="159" y1="172.56" x2="160.5" y2="172.56" stroke="#999" stroke-width="0.6"/>
<line x1="159" y1="171.38" x2="160.5" y2="171.38" stroke="#999" stroke-width="0.6"/>
<line x1="159" y1="163.39" x2="160.5" y2="163.39" stroke="#999" stroke-width="0.6"/>
<line x1="159" y1="159.34" x2="160.5" y2="159.34" stroke="#999" stroke-width="0.6"/>
<line x1="159" y1="156.46" x2="160.5" y2="156.46" stroke="#999" stroke-width="0.6"/>
<line x1="159" y1="154.23" x2="160.5" y2="154.23" stroke="#999" stroke-width="0.6"/>
<line x1="159" y1="152.41" x2="160.5" y2="152.41" stroke="#999" stroke-width="0.6"/>
<line x1="159" y1="150.87" x2="160.5" y2="150.87" stroke="#999" stroke-width="0.6"/>
<line x1="159" y1="149.53" x2="160.5" y2="149.53" stroke="#999" stroke-width="0.6"/>
<line x1="159" y1="148.35" x2="160.5" y2="148.35" stroke="#999" stroke-width="0.6"/>
<polyline points="170.1,175.4 189.4,172 208.9,170.6 227.5,170.8 246.3,172.5" fill="none" stroke="#111" stroke-width="1.2" stroke-linejoin="round"/>
<polyline points="170.1,221.4 189.4,184.6 208.9,176.8 227.5,170.8 246.3,168.2" fill="none" stroke="#111" stroke-width="1.2" stroke-linejoin="round"/>
<polygon points="170.1,175 172.3,179 167.9,179" fill="#fff" stroke="#111" stroke-width="1.2" stroke-linejoin="miter"/>
<circle cx="170.1" cy="175.4" r="2" fill="#fff" stroke="#111" stroke-width="1.3"/>
<circle cx="189.4" cy="172" r="2" fill="#fff" stroke="#111" stroke-width="1.3"/>
<circle cx="208.9" cy="170.6" r="2" fill="#fff" stroke="#111" stroke-width="1.3"/>
<circle cx="227.5" cy="170.8" r="2" fill="#fff" stroke="#111" stroke-width="1.3"/>
<circle cx="246.3" cy="172.5" r="2" fill="#fff" stroke="#111" stroke-width="1.3"/>
<ellipse cx="170.1" cy="221.4" rx="2.85" ry="2.55" fill="#111"/>
<ellipse cx="189.4" cy="184.6" rx="2.85" ry="2.55" fill="#111"/>
<ellipse cx="208.9" cy="176.8" rx="2.85" ry="2.55" fill="#111"/>
<ellipse cx="227.5" cy="170.8" rx="2.85" ry="2.55" fill="#111"/>
<ellipse cx="246.3" cy="168.2" rx="2.85" ry="2.55" fill="#111"/>
<rect x="160.5" y="147.3" width="97.2" height="92.1" fill="none" stroke="#111" stroke-width="1.3"/>
<line x1="304.3" y1="239.8" x2="304.3" y2="242" stroke="#111" stroke-width="1"/>
<text x="304.5" y="248.3" font-size="7.2" text-anchor="middle" font-weight="normal" font-family='"Liberation Serif", serif' fill="#111">0</text>
<line x1="320.7" y1="239.8" x2="320.7" y2="242" stroke="#111" stroke-width="1"/>
<text x="320.6" y="248.3" font-size="7.2" text-anchor="middle" font-weight="normal" font-family='"Liberation Serif", serif' fill="#111">0.03</text>
<line x1="337.1" y1="239.8" x2="337.1" y2="242" stroke="#111" stroke-width="1"/>
<text x="337" y="248.3" font-size="7.2" text-anchor="middle" font-weight="normal" font-family='"Liberation Serif", serif' fill="#111">0.1</text>
<line x1="354" y1="239.8" x2="354" y2="242" stroke="#111" stroke-width="1"/>
<text x="353.8" y="248.3" font-size="7.2" text-anchor="middle" font-weight="normal" font-family='"Liberation Serif", serif' fill="#111">0.3</text>
<line x1="370.3" y1="239.8" x2="370.3" y2="242" stroke="#111" stroke-width="1"/>
<text x="370.1" y="248.3" font-size="7.2" text-anchor="middle" font-weight="normal" font-family='"Liberation Serif", serif' fill="#111">1</text>
<line x1="285.1" y1="239.8" x2="287.3" y2="239.8" stroke="#111" stroke-width="1"/>
<text x="284.8" y="242.1" font-size="5.9" text-anchor="end" font-weight="normal" font-family='"Liberation Serif", serif' fill="#111">0</text>
<line x1="285.1" y1="221.12" x2="287.3" y2="221.12" stroke="#111" stroke-width="1"/>
<text x="284.8" y="223.42" font-size="5.9" text-anchor="end" font-weight="normal" font-family='"Liberation Serif", serif' fill="#111">5</text>
<line x1="285.1" y1="202.44" x2="287.3" y2="202.44" stroke="#111" stroke-width="1"/>
<text x="284.8" y="204.74" font-size="5.9" text-anchor="end" font-weight="normal" font-family='"Liberation Serif", serif' fill="#111">10</text>
<line x1="285.1" y1="183.76" x2="287.3" y2="183.76" stroke="#111" stroke-width="1"/>
<text x="284.8" y="186.06" font-size="5.9" text-anchor="end" font-weight="normal" font-family='"Liberation Serif", serif' fill="#111">15</text>
<line x1="285.1" y1="165.08" x2="287.3" y2="165.08" stroke="#111" stroke-width="1"/>
<text x="284.8" y="167.38" font-size="5.9" text-anchor="end" font-weight="normal" font-family='"Liberation Serif", serif' fill="#111">20</text>
<line x1="285.1" y1="146.4" x2="287.3" y2="146.4" stroke="#111" stroke-width="1"/>
<text x="284.8" y="148.7" font-size="5.9" text-anchor="end" font-weight="normal" font-family='"Liberation Serif", serif' fill="#111">25</text>
<line x1="285.8" y1="236.06" x2="287.3" y2="236.06" stroke="#111" stroke-width="0.8"/>
<line x1="285.8" y1="232.33" x2="287.3" y2="232.33" stroke="#111" stroke-width="0.8"/>
<line x1="285.8" y1="228.59" x2="287.3" y2="228.59" stroke="#111" stroke-width="0.8"/>
<line x1="285.8" y1="224.86" x2="287.3" y2="224.86" stroke="#111" stroke-width="0.8"/>
<line x1="285.8" y1="217.38" x2="287.3" y2="217.38" stroke="#111" stroke-width="0.8"/>
<line x1="285.8" y1="213.65" x2="287.3" y2="213.65" stroke="#111" stroke-width="0.8"/>
<line x1="285.8" y1="209.91" x2="287.3" y2="209.91" stroke="#111" stroke-width="0.8"/>
<line x1="285.8" y1="206.18" x2="287.3" y2="206.18" stroke="#111" stroke-width="0.8"/>
<line x1="285.8" y1="198.7" x2="287.3" y2="198.7" stroke="#111" stroke-width="0.8"/>
<line x1="285.8" y1="194.97" x2="287.3" y2="194.97" stroke="#111" stroke-width="0.8"/>
<line x1="285.8" y1="191.23" x2="287.3" y2="191.23" stroke="#111" stroke-width="0.8"/>
<line x1="285.8" y1="187.5" x2="287.3" y2="187.5" stroke="#111" stroke-width="0.8"/>
<line x1="285.8" y1="180.02" x2="287.3" y2="180.02" stroke="#111" stroke-width="0.8"/>
<line x1="285.8" y1="176.29" x2="287.3" y2="176.29" stroke="#111" stroke-width="0.8"/>
<line x1="285.8" y1="172.55" x2="287.3" y2="172.55" stroke="#111" stroke-width="0.8"/>
<line x1="285.8" y1="168.82" x2="287.3" y2="168.82" stroke="#111" stroke-width="0.8"/>
<line x1="285.8" y1="161.34" x2="287.3" y2="161.34" stroke="#111" stroke-width="0.8"/>
<line x1="285.8" y1="157.61" x2="287.3" y2="157.61" stroke="#111" stroke-width="0.8"/>
<line x1="285.8" y1="153.87" x2="287.3" y2="153.87" stroke="#111" stroke-width="0.8"/>
<line x1="285.8" y1="150.14" x2="287.3" y2="150.14" stroke="#111" stroke-width="0.8"/>
<polyline points="304.3,237.6 320.7,195.4 337.1,179.3 354,169.6 370.3,156.8" fill="none" stroke="#111" stroke-width="1.2" stroke-linejoin="round"/>
<polyline points="304.3,238.5 320.7,238.8 337.1,232.3 354,218.6 370.3,203.8" fill="none" stroke="#111" stroke-width="1.2" stroke-linejoin="round"/>
<line x1="320.7" y1="193.9" x2="320.7" y2="196.9" stroke="#111" stroke-width="0.95"/>
<line x1="318.3" y1="193.9" x2="323.1" y2="193.9" stroke="#111" stroke-width="0.95"/>
<line x1="318.3" y1="196.9" x2="323.1" y2="196.9" stroke="#111" stroke-width="0.95"/>
<line x1="337.1" y1="174.5" x2="337.1" y2="184" stroke="#111" stroke-width="0.95"/>
<line x1="334.7" y1="174.5" x2="339.5" y2="174.5" stroke="#111" stroke-width="0.95"/>
<line x1="334.7" y1="184" x2="339.5" y2="184" stroke="#111" stroke-width="0.95"/>
<line x1="354" y1="162.9" x2="354" y2="176.8" stroke="#111" stroke-width="0.95"/>
<line x1="351.6" y1="162.9" x2="356.4" y2="162.9" stroke="#111" stroke-width="0.95"/>
<line x1="351.6" y1="176.8" x2="356.4" y2="176.8" stroke="#111" stroke-width="0.95"/>
<line x1="370.3" y1="153.2" x2="370.3" y2="161.7" stroke="#111" stroke-width="0.95"/>
<line x1="367.9" y1="153.2" x2="372.7" y2="153.2" stroke="#111" stroke-width="0.95"/>
<line x1="367.9" y1="161.7" x2="372.7" y2="161.7" stroke="#111" stroke-width="0.95"/>
<line x1="337.1" y1="228" x2="337.1" y2="236" stroke="#111" stroke-width="0.95"/>
<line x1="334.7" y1="228" x2="339.5" y2="228" stroke="#111" stroke-width="0.95"/>
<line x1="334.7" y1="236" x2="339.5" y2="236" stroke="#111" stroke-width="0.95"/>
<line x1="354" y1="215.2" x2="354" y2="222.2" stroke="#111" stroke-width="0.95"/>
<line x1="351.6" y1="215.2" x2="356.4" y2="215.2" stroke="#111" stroke-width="0.95"/>
<line x1="351.6" y1="222.2" x2="356.4" y2="222.2" stroke="#111" stroke-width="0.95"/>
<line x1="370.3" y1="199" x2="370.3" y2="209.9" stroke="#111" stroke-width="0.95"/>
<line x1="367.9" y1="199" x2="372.7" y2="199" stroke="#111" stroke-width="0.95"/>
<line x1="367.9" y1="209.9" x2="372.7" y2="209.9" stroke="#111" stroke-width="0.95"/>
<ellipse cx="304.3" cy="238.5" rx="2.85" ry="2.55" fill="#111"/>
<ellipse cx="320.7" cy="238.8" rx="2.85" ry="2.55" fill="#111"/>
<ellipse cx="337.1" cy="232.3" rx="2.85" ry="2.55" fill="#111"/>
<ellipse cx="354" cy="218.6" rx="2.85" ry="2.55" fill="#111"/>
<ellipse cx="370.3" cy="203.8" rx="2.85" ry="2.55" fill="#111"/>
<circle cx="304.3" cy="237.6" r="2" fill="#fff" stroke="#111" stroke-width="1.3"/>
<circle cx="320.7" cy="195.4" r="2" fill="#fff" stroke="#111" stroke-width="1.3"/>
<circle cx="337.1" cy="179.3" r="2" fill="#fff" stroke="#111" stroke-width="1.3"/>
<circle cx="354" cy="169.6" r="2" fill="#fff" stroke="#111" stroke-width="1.3"/>
<circle cx="370.3" cy="156.8" r="2" fill="#fff" stroke="#111" stroke-width="1.3"/>
<rect x="287.3" y="146.4" width="99.2" height="93.4" fill="none" stroke="#111" stroke-width="1.3"/>
<text x="328" y="167" font-size="8" text-anchor="start" font-weight="normal" font-family='"Liberation Serif", serif' fill="#111">hIgG</text>
<text x="341.5" y="194" font-size="8" text-anchor="start" font-weight="normal" font-family='"Liberation Serif", serif' fill="#111">DC-HIL-Fc</text>
<line x1="33.9" y1="367.7" x2="33.9" y2="369.9" stroke="#111" stroke-width="1"/>
<text x="33" y="375.9" font-size="7.2" text-anchor="middle" font-weight="normal" font-family='"Liberation Serif", serif' fill="#111">0</text>
<line x1="53.6" y1="367.7" x2="53.6" y2="369.9" stroke="#111" stroke-width="1"/>
<text x="53" y="375.9" font-size="7.2" text-anchor="middle" font-weight="normal" font-family='"Liberation Serif", serif' fill="#111">0.03</text>
<line x1="73.2" y1="367.7" x2="73.2" y2="369.9" stroke="#111" stroke-width="1"/>
<text x="72.9" y="375.9" font-size="7.2" text-anchor="middle" font-weight="normal" font-family='"Liberation Serif", serif' fill="#111">0.1</text>
<line x1="93.4" y1="367.7" x2="93.4" y2="369.9" stroke="#111" stroke-width="1"/>
<text x="93" y="375.9" font-size="7.2" text-anchor="middle" font-weight="normal" font-family='"Liberation Serif", serif' fill="#111">0.3</text>
<line x1="113.4" y1="367.7" x2="113.4" y2="369.9" stroke="#111" stroke-width="1"/>
<text x="113" y="375.9" font-size="7.2" text-anchor="middle" font-weight="normal" font-family='"Liberation Serif", serif' fill="#111">1</text>
<line x1="21" y1="367.7" x2="23.2" y2="367.7" stroke="#111" stroke-width="1"/>
<text x="19.7" y="370" font-size="5.9" text-anchor="end" font-weight="normal" font-family='"Liberation Serif", serif' fill="#111">0</text>
<line x1="21" y1="337.57" x2="23.2" y2="337.57" stroke="#111" stroke-width="1"/>
<text x="19.7" y="339.87" font-size="5.9" text-anchor="end" font-weight="normal" font-family='"Liberation Serif", serif' fill="#111">10</text>
<line x1="21" y1="307.43" x2="23.2" y2="307.43" stroke="#111" stroke-width="1"/>
<text x="19.7" y="309.73" font-size="5.9" text-anchor="end" font-weight="normal" font-family='"Liberation Serif", serif' fill="#111">20</text>
<line x1="21" y1="277.3" x2="23.2" y2="277.3" stroke="#111" stroke-width="1"/>
<text x="19.7" y="279.6" font-size="5.9" text-anchor="end" font-weight="normal" font-family='"Liberation Serif", serif' fill="#111">30</text>
<line x1="21.7" y1="361.67" x2="23.2" y2="361.67" stroke="#111" stroke-width="0.8"/>
<line x1="21.7" y1="355.65" x2="23.2" y2="355.65" stroke="#111" stroke-width="0.8"/>
<line x1="21.7" y1="349.62" x2="23.2" y2="349.62" stroke="#111" stroke-width="0.8"/>
<line x1="21.7" y1="343.59" x2="23.2" y2="343.59" stroke="#111" stroke-width="0.8"/>
<line x1="21.7" y1="331.54" x2="23.2" y2="331.54" stroke="#111" stroke-width="0.8"/>
<line x1="21.7" y1="325.51" x2="23.2" y2="325.51" stroke="#111" stroke-width="0.8"/>
<line x1="21.7" y1="319.49" x2="23.2" y2="319.49" stroke="#111" stroke-width="0.8"/>
<line x1="21.7" y1="313.46" x2="23.2" y2="313.46" stroke="#111" stroke-width="0.8"/>
<line x1="21.7" y1="301.41" x2="23.2" y2="301.41" stroke="#111" stroke-width="0.8"/>
<line x1="21.7" y1="295.38" x2="23.2" y2="295.38" stroke="#111" stroke-width="0.8"/>
<line x1="21.7" y1="289.35" x2="23.2" y2="289.35" stroke="#111" stroke-width="0.8"/>
<line x1="21.7" y1="283.33" x2="23.2" y2="283.33" stroke="#111" stroke-width="0.8"/>
<polyline points="33.9,367.2 53.6,367.2 73.2,367.2 93.4,367.2 113.4,365.2" fill="none" stroke="#111" stroke-width="1.2" stroke-linejoin="round"/>
<polyline points="33.9,366.4 53.6,353.9 73.2,323.5 93.4,306.6 113.4,293.6" fill="none" stroke="#111" stroke-width="1.2" stroke-linejoin="round"/>
<line x1="53.6" y1="350" x2="53.6" y2="358" stroke="#111" stroke-width="0.95"/>
<line x1="51.2" y1="350" x2="56" y2="350" stroke="#111" stroke-width="0.95"/>
<line x1="51.2" y1="358" x2="56" y2="358" stroke="#111" stroke-width="0.95"/>
<line x1="73.2" y1="316.5" x2="73.2" y2="331" stroke="#111" stroke-width="0.95"/>
<line x1="70.8" y1="316.5" x2="75.6" y2="316.5" stroke="#111" stroke-width="0.95"/>
<line x1="70.8" y1="331" x2="75.6" y2="331" stroke="#111" stroke-width="0.95"/>
<line x1="93.4" y1="301.3" x2="93.4" y2="312.2" stroke="#111" stroke-width="0.95"/>
<line x1="91" y1="301.3" x2="95.8" y2="301.3" stroke="#111" stroke-width="0.95"/>
<line x1="91" y1="312.2" x2="95.8" y2="312.2" stroke="#111" stroke-width="0.95"/>
<line x1="113.4" y1="286" x2="113.4" y2="300.6" stroke="#111" stroke-width="0.95"/>
<line x1="111" y1="286" x2="115.8" y2="286" stroke="#111" stroke-width="0.95"/>
<line x1="111" y1="300.6" x2="115.8" y2="300.6" stroke="#111" stroke-width="0.95"/>
<ellipse cx="33.9" cy="367.2" rx="2.85" ry="2.55" fill="#111"/>
<ellipse cx="53.6" cy="367.2" rx="2.85" ry="2.55" fill="#111"/>
<ellipse cx="73.2" cy="367.2" rx="2.85" ry="2.55" fill="#111"/>
<ellipse cx="93.4" cy="367.2" rx="2.85" ry="2.55" fill="#111"/>
<ellipse cx="113.4" cy="365.2" rx="2.85" ry="2.55" fill="#111"/>
<circle cx="33.9" cy="366.4" r="2" fill="#fff" stroke="#111" stroke-width="1.3"/>
<circle cx="53.6" cy="353.9" r="2" fill="#fff" stroke="#111" stroke-width="1.3"/>
<circle cx="73.2" cy="323.5" r="2" fill="#fff" stroke="#111" stroke-width="1.3"/>
<circle cx="93.4" cy="306.6" r="2" fill="#fff" stroke="#111" stroke-width="1.3"/>
<circle cx="113.4" cy="293.6" r="2" fill="#fff" stroke="#111" stroke-width="1.3"/>
<rect x="23.2" y="277.3" width="99.8" height="90.4" fill="none" stroke="#111" stroke-width="1.3"/>
<text x="70" y="303" font-size="8" text-anchor="start" font-weight="normal" font-family='"Liberation Serif", serif' fill="#111">hIgG</text>
<text x="75.6" y="355.5" font-size="8" text-anchor="start" font-weight="normal" font-family='"Liberation Serif", serif' fill="#111">DC-HIL-Fc</text>
<line x1="173.1" y1="367.7" x2="173.1" y2="369.9" stroke="#111" stroke-width="1"/>
<text x="173.7" y="375.8" font-size="7.2" text-anchor="middle" font-weight="normal" font-family='"Liberation Serif", serif' fill="#111">0</text>
<line x1="189.2" y1="367.7" x2="189.2" y2="369.9" stroke="#111" stroke-width="1"/>
<text x="190" y="375.8" font-size="7.2" text-anchor="middle" font-weight="normal" font-family='"Liberation Serif", serif' fill="#111">0.62</text>
<line x1="205.6" y1="367.7" x2="205.6" y2="369.9" stroke="#111" stroke-width="1"/>
<text x="205.5" y="375.8" font-size="7.2" text-anchor="middle" font-weight="normal" font-family='"Liberation Serif", serif' fill="#111">1.25</text>
<line x1="222.5" y1="367.7" x2="222.5" y2="369.9" stroke="#111" stroke-width="1"/>
<text x="222" y="375.8" font-size="7.2" text-anchor="middle" font-weight="normal" font-family='"Liberation Serif", serif' fill="#111">2.5</text>
<line x1="238.2" y1="367.7" x2="238.2" y2="369.9" stroke="#111" stroke-width="1"/>
<text x="238.1" y="375.8" font-size="7.2" text-anchor="middle" font-weight="normal" font-family='"Liberation Serif", serif' fill="#111">5</text>
<line x1="153.8" y1="367.7" x2="156" y2="367.7" stroke="#111" stroke-width="1"/>
<text x="153.1" y="370" font-size="5.9" text-anchor="end" font-weight="normal" font-family='"Liberation Serif", serif' fill="#111">0</text>
<line x1="153.8" y1="337.7" x2="156" y2="337.7" stroke="#111" stroke-width="1"/>
<text x="153.1" y="340" font-size="5.9" text-anchor="end" font-weight="normal" font-family='"Liberation Serif", serif' fill="#111">10</text>
<line x1="153.8" y1="307.7" x2="156" y2="307.7" stroke="#111" stroke-width="1"/>
<text x="153.1" y="310" font-size="5.9" text-anchor="end" font-weight="normal" font-family='"Liberation Serif", serif' fill="#111">20</text>
<line x1="153.8" y1="277.7" x2="156" y2="277.7" stroke="#111" stroke-width="1"/>
<text x="153.1" y="280" font-size="5.9" text-anchor="end" font-weight="normal" font-family='"Liberation Serif", serif' fill="#111">30</text>
<line x1="154.5" y1="364.7" x2="156" y2="364.7" stroke="#111" stroke-width="0.8"/>
<line x1="154.5" y1="361.7" x2="156" y2="361.7" stroke="#111" stroke-width="0.8"/>
<line x1="154.5" y1="358.7" x2="156" y2="358.7" stroke="#111" stroke-width="0.8"/>
<line x1="154.5" y1="355.7" x2="156" y2="355.7" stroke="#111" stroke-width="0.8"/>
<line x1="154.5" y1="352.7" x2="156" y2="352.7" stroke="#111" stroke-width="0.8"/>
<line x1="154.5" y1="349.7" x2="156" y2="349.7" stroke="#111" stroke-width="0.8"/>
<line x1="154.5" y1="346.7" x2="156" y2="346.7" stroke="#111" stroke-width="0.8"/>
<line x1="154.5" y1="343.7" x2="156" y2="343.7" stroke="#111" stroke-width="0.8"/>
<line x1="154.5" y1="340.7" x2="156" y2="340.7" stroke="#111" stroke-width="0.8"/>
<line x1="154.5" y1="334.7" x2="156" y2="334.7" stroke="#111" stroke-width="0.8"/>
<line x1="154.5" y1="331.7" x2="156" y2="331.7" stroke="#111" stroke-width="0.8"/>
<line x1="154.5" y1="328.7" x2="156" y2="328.7" stroke="#111" stroke-width="0.8"/>
<line x1="154.5" y1="325.7" x2="156" y2="325.7" stroke="#111" stroke-width="0.8"/>
<line x1="154.5" y1="322.7" x2="156" y2="322.7" stroke="#111" stroke-width="0.8"/>
<line x1="154.5" y1="319.7" x2="156" y2="319.7" stroke="#111" stroke-width="0.8"/>
<line x1="154.5" y1="316.7" x2="156" y2="316.7" stroke="#111" stroke-width="0.8"/>
<line x1="154.5" y1="313.7" x2="156" y2="313.7" stroke="#111" stroke-width="0.8"/>
<line x1="154.5" y1="310.7" x2="156" y2="310.7" stroke="#111" stroke-width="0.8"/>
<line x1="154.5" y1="304.7" x2="156" y2="304.7" stroke="#111" stroke-width="0.8"/>
<line x1="154.5" y1="301.7" x2="156" y2="301.7" stroke="#111" stroke-width="0.8"/>
<line x1="154.5" y1="298.7" x2="156" y2="298.7" stroke="#111" stroke-width="0.8"/>
<line x1="154.5" y1="295.7" x2="156" y2="295.7" stroke="#111" stroke-width="0.8"/>
<line x1="154.5" y1="292.7" x2="156" y2="292.7" stroke="#111" stroke-width="0.8"/>
<line x1="154.5" y1="289.7" x2="156" y2="289.7" stroke="#111" stroke-width="0.8"/>
<line x1="154.5" y1="286.7" x2="156" y2="286.7" stroke="#111" stroke-width="0.8"/>
<line x1="154.5" y1="283.7" x2="156" y2="283.7" stroke="#111" stroke-width="0.8"/>
<line x1="154.5" y1="280.7" x2="156" y2="280.7" stroke="#111" stroke-width="0.8"/>
<polyline points="173.3,312.2 189.2,309.2 205.5,306.5 222.3,306.5 238.4,305.5" fill="none" stroke="#111" stroke-width="1.2" stroke-linejoin="round"/>
<polyline points="173.3,309.6 189.2,311.6 205.5,314.5 222.3,324.7 238.4,340" fill="none" stroke="#111" stroke-width="1.2" stroke-linejoin="round"/>
<line x1="173.3" y1="308.2" x2="173.3" y2="316.2" stroke="#111" stroke-width="0.95"/>
<line x1="170.9" y1="308.2" x2="175.7" y2="308.2" stroke="#111" stroke-width="0.95"/>
<line x1="170.9" y1="316.2" x2="175.7" y2="316.2" stroke="#111" stroke-width="0.95"/>
<line x1="189.2" y1="305.2" x2="189.2" y2="313.2" stroke="#111" stroke-width="0.95"/>
<line x1="186.8" y1="305.2" x2="191.6" y2="305.2" stroke="#111" stroke-width="0.95"/>
<line x1="186.8" y1="313.2" x2="191.6" y2="313.2" stroke="#111" stroke-width="0.95"/>
<line x1="205.5" y1="303.5" x2="205.5" y2="309.5" stroke="#111" stroke-width="0.95"/>
<line x1="203.1" y1="303.5" x2="207.9" y2="303.5" stroke="#111" stroke-width="0.95"/>
<line x1="203.1" y1="309.5" x2="207.9" y2="309.5" stroke="#111" stroke-width="0.95"/>
<line x1="222.3" y1="302.7" x2="222.3" y2="310.3" stroke="#111" stroke-width="0.95"/>
<line x1="219.9" y1="302.7" x2="224.7" y2="302.7" stroke="#111" stroke-width="0.95"/>
<line x1="219.9" y1="310.3" x2="224.7" y2="310.3" stroke="#111" stroke-width="0.95"/>
<line x1="238.4" y1="300.9" x2="238.4" y2="310.1" stroke="#111" stroke-width="0.95"/>
<line x1="236" y1="300.9" x2="240.8" y2="300.9" stroke="#111" stroke-width="0.95"/>
<line x1="236" y1="310.1" x2="240.8" y2="310.1" stroke="#111" stroke-width="0.95"/>
<line x1="173.3" y1="306.1" x2="173.3" y2="313.1" stroke="#111" stroke-width="0.95"/>
<line x1="170.9" y1="306.1" x2="175.7" y2="306.1" stroke="#111" stroke-width="0.95"/>
<line x1="170.9" y1="313.1" x2="175.7" y2="313.1" stroke="#111" stroke-width="0.95"/>
<line x1="189.2" y1="308.1" x2="189.2" y2="315.1" stroke="#111" stroke-width="0.95"/>
<line x1="186.8" y1="308.1" x2="191.6" y2="308.1" stroke="#111" stroke-width="0.95"/>
<line x1="186.8" y1="315.1" x2="191.6" y2="315.1" stroke="#111" stroke-width="0.95"/>
<line x1="205.5" y1="311" x2="205.5" y2="318" stroke="#111" stroke-width="0.95"/>
<line x1="203.1" y1="311" x2="207.9" y2="311" stroke="#111" stroke-width="0.95"/>
<line x1="203.1" y1="318" x2="207.9" y2="318" stroke="#111" stroke-width="0.95"/>
<line x1="222.3" y1="319.7" x2="222.3" y2="329.7" stroke="#111" stroke-width="0.95"/>
<line x1="219.9" y1="319.7" x2="224.7" y2="319.7" stroke="#111" stroke-width="0.95"/>
<line x1="219.9" y1="329.7" x2="224.7" y2="329.7" stroke="#111" stroke-width="0.95"/>
<line x1="238.4" y1="336.1" x2="238.4" y2="343.9" stroke="#111" stroke-width="0.95"/>
<line x1="236" y1="336.1" x2="240.8" y2="336.1" stroke="#111" stroke-width="0.95"/>
<line x1="236" y1="343.9" x2="240.8" y2="343.9" stroke="#111" stroke-width="0.95"/>
<ellipse cx="173.3" cy="309.6" rx="2.85" ry="2.55" fill="#111"/>
<ellipse cx="189.2" cy="311.6" rx="2.85" ry="2.55" fill="#111"/>
<ellipse cx="205.5" cy="314.5" rx="2.85" ry="2.55" fill="#111"/>
<ellipse cx="222.3" cy="324.7" rx="2.85" ry="2.55" fill="#111"/>
<ellipse cx="238.4" cy="340" rx="2.85" ry="2.55" fill="#111"/>
<circle cx="173.3" cy="312.2" r="2" fill="#fff" stroke="#111" stroke-width="1.3"/>
<circle cx="189.2" cy="309.2" r="2" fill="#fff" stroke="#111" stroke-width="1.3"/>
<circle cx="205.5" cy="306.5" r="2" fill="#fff" stroke="#111" stroke-width="1.3"/>
<circle cx="222.3" cy="306.5" r="2" fill="#fff" stroke="#111" stroke-width="1.3"/>
<circle cx="238.4" cy="305.5" r="2" fill="#fff" stroke="#111" stroke-width="1.3"/>
<rect x="156" y="277.7" width="98.5" height="90" fill="none" stroke="#111" stroke-width="1.3"/>
<text x="185.1" y="298.9" font-size="8" text-anchor="start" font-weight="normal" font-family='"Liberation Serif", serif' fill="#111">hIgG</text>
<text x="193.6" y="351" font-size="8" text-anchor="start" font-weight="normal" font-family='"Liberation Serif", serif' fill="#111">DC-HIL-Fc</text>
<line x1="297.1" y1="368" x2="297.1" y2="370.2" stroke="#111" stroke-width="1"/>
<text x="297" y="376" font-size="7.2" text-anchor="middle" font-weight="normal" font-family='"Liberation Serif", serif' fill="#111">0</text>
<line x1="316.3" y1="368" x2="316.3" y2="370.2" stroke="#111" stroke-width="1"/>
<text x="316.3" y="376" font-size="7.2" text-anchor="middle" font-weight="normal" font-family='"Liberation Serif", serif' fill="#111">0.62</text>
<line x1="335.6" y1="368" x2="335.6" y2="370.2" stroke="#111" stroke-width="1"/>
<text x="336.2" y="376" font-size="7.2" text-anchor="middle" font-weight="normal" font-family='"Liberation Serif", serif' fill="#111">1.25</text>
<line x1="355.4" y1="368" x2="355.4" y2="370.2" stroke="#111" stroke-width="1"/>
<text x="356.2" y="376" font-size="7.2" text-anchor="middle" font-weight="normal" font-family='"Liberation Serif", serif' fill="#111">2.5</text>
<line x1="374.6" y1="368" x2="374.6" y2="370.2" stroke="#111" stroke-width="1"/>
<text x="375" y="376" font-size="7.2" text-anchor="middle" font-weight="normal" font-family='"Liberation Serif", serif' fill="#111">5</text>
<line x1="283.4" y1="368" x2="285.6" y2="368" stroke="#111" stroke-width="1"/>
<text x="283.5" y="370.3" font-size="5.9" text-anchor="end" font-weight="normal" font-family='"Liberation Serif", serif' fill="#111">0</text>
<line x1="283.4" y1="338.03" x2="285.6" y2="338.03" stroke="#111" stroke-width="1"/>
<text x="283.5" y="340.33" font-size="5.9" text-anchor="end" font-weight="normal" font-family='"Liberation Serif", serif' fill="#111">10</text>
<line x1="283.4" y1="308.07" x2="285.6" y2="308.07" stroke="#111" stroke-width="1"/>
<text x="283.5" y="310.37" font-size="5.9" text-anchor="end" font-weight="normal" font-family='"Liberation Serif", serif' fill="#111">20</text>
<line x1="283.4" y1="278.1" x2="285.6" y2="278.1" stroke="#111" stroke-width="1"/>
<text x="283.5" y="280.4" font-size="5.9" text-anchor="end" font-weight="normal" font-family='"Liberation Serif", serif' fill="#111">30</text>
<line x1="284.1" y1="362.01" x2="285.6" y2="362.01" stroke="#888" stroke-width="0.6"/>
<line x1="284.1" y1="356.01" x2="285.6" y2="356.01" stroke="#888" stroke-width="0.6"/>
<line x1="284.1" y1="350.02" x2="285.6" y2="350.02" stroke="#888" stroke-width="0.6"/>
<line x1="284.1" y1="344.03" x2="285.6" y2="344.03" stroke="#888" stroke-width="0.6"/>
<line x1="284.1" y1="332.04" x2="285.6" y2="332.04" stroke="#888" stroke-width="0.6"/>
<line x1="284.1" y1="326.05" x2="285.6" y2="326.05" stroke="#888" stroke-width="0.6"/>
<line x1="284.1" y1="320.05" x2="285.6" y2="320.05" stroke="#888" stroke-width="0.6"/>
<line x1="284.1" y1="314.06" x2="285.6" y2="314.06" stroke="#888" stroke-width="0.6"/>
<line x1="284.1" y1="302.07" x2="285.6" y2="302.07" stroke="#888" stroke-width="0.6"/>
<line x1="284.1" y1="296.08" x2="285.6" y2="296.08" stroke="#888" stroke-width="0.6"/>
<line x1="284.1" y1="290.09" x2="285.6" y2="290.09" stroke="#888" stroke-width="0.6"/>
<line x1="284.1" y1="284.09" x2="285.6" y2="284.09" stroke="#888" stroke-width="0.6"/>
<polyline points="297.1,304.4 316.3,301.3 335.6,302.7 355.4,300.5 374.6,302.6" fill="none" stroke="#111" stroke-width="1.2" stroke-linejoin="round"/>
<polyline points="297.1,304.4 316.3,311.8 335.6,329.4 355.4,349.3 374.6,365.5" fill="none" stroke="#111" stroke-width="1.2" stroke-linejoin="round"/>
<line x1="297.1" y1="299.4" x2="297.1" y2="309.4" stroke="#111" stroke-width="0.95"/>
<line x1="294.7" y1="299.4" x2="299.5" y2="299.4" stroke="#111" stroke-width="0.95"/>
<line x1="294.7" y1="309.4" x2="299.5" y2="309.4" stroke="#111" stroke-width="0.95"/>
<line x1="316.3" y1="297.3" x2="316.3" y2="305.3" stroke="#111" stroke-width="0.95"/>
<line x1="313.9" y1="297.3" x2="318.7" y2="297.3" stroke="#111" stroke-width="0.95"/>
<line x1="313.9" y1="305.3" x2="318.7" y2="305.3" stroke="#111" stroke-width="0.95"/>
<line x1="335.6" y1="299.1" x2="335.6" y2="306.3" stroke="#111" stroke-width="0.95"/>
<line x1="333.2" y1="299.1" x2="338" y2="299.1" stroke="#111" stroke-width="0.95"/>
<line x1="333.2" y1="306.3" x2="338" y2="306.3" stroke="#111" stroke-width="0.95"/>
<line x1="355.4" y1="295.9" x2="355.4" y2="305.1" stroke="#111" stroke-width="0.95"/>
<line x1="353" y1="295.9" x2="357.8" y2="295.9" stroke="#111" stroke-width="0.95"/>
<line x1="353" y1="305.1" x2="357.8" y2="305.1" stroke="#111" stroke-width="0.95"/>
<line x1="374.6" y1="297.8" x2="374.6" y2="307.4" stroke="#111" stroke-width="0.95"/>
<line x1="372.2" y1="297.8" x2="377" y2="297.8" stroke="#111" stroke-width="0.95"/>
<line x1="372.2" y1="307.4" x2="377" y2="307.4" stroke="#111" stroke-width="0.95"/>
<line x1="297.1" y1="301.4" x2="297.1" y2="307.4" stroke="#111" stroke-width="0.95"/>
<line x1="294.7" y1="301.4" x2="299.5" y2="301.4" stroke="#111" stroke-width="0.95"/>
<line x1="294.7" y1="307.4" x2="299.5" y2="307.4" stroke="#111" stroke-width="0.95"/>
<line x1="316.3" y1="307" x2="316.3" y2="316.6" stroke="#111" stroke-width="0.95"/>
<line x1="313.9" y1="307" x2="318.7" y2="307" stroke="#111" stroke-width="0.95"/>
<line x1="313.9" y1="316.6" x2="318.7" y2="316.6" stroke="#111" stroke-width="0.95"/>
<line x1="335.6" y1="325.8" x2="335.6" y2="333" stroke="#111" stroke-width="0.95"/>
<line x1="333.2" y1="325.8" x2="338" y2="325.8" stroke="#111" stroke-width="0.95"/>
<line x1="333.2" y1="333" x2="338" y2="333" stroke="#111" stroke-width="0.95"/>
<line x1="355.4" y1="345.7" x2="355.4" y2="352.9" stroke="#111" stroke-width="0.95"/>
<line x1="353" y1="345.7" x2="357.8" y2="345.7" stroke="#111" stroke-width="0.95"/>
<line x1="353" y1="352.9" x2="357.8" y2="352.9" stroke="#111" stroke-width="0.95"/>
<ellipse cx="297.1" cy="304.4" rx="2.85" ry="2.55" fill="#111"/>
<ellipse cx="316.3" cy="311.8" rx="2.85" ry="2.55" fill="#111"/>
<ellipse cx="335.6" cy="329.4" rx="2.85" ry="2.55" fill="#111"/>
<ellipse cx="355.4" cy="349.3" rx="2.85" ry="2.55" fill="#111"/>
<ellipse cx="374.6" cy="365.5" rx="2.85" ry="2.55" fill="#111"/>
<circle cx="297.1" cy="304.4" r="2" fill="#fff" stroke="#111" stroke-width="1.3"/>
<circle cx="316.3" cy="301.3" r="2" fill="#fff" stroke="#111" stroke-width="1.3"/>
<circle cx="335.6" cy="302.7" r="2" fill="#fff" stroke="#111" stroke-width="1.3"/>
<circle cx="355.4" cy="300.5" r="2" fill="#fff" stroke="#111" stroke-width="1.3"/>
<circle cx="374.6" cy="302.6" r="2" fill="#fff" stroke="#111" stroke-width="1.3"/>
<rect x="285.6" y="278.1" width="99" height="89.9" fill="none" stroke="#111" stroke-width="1.3"/>
<text x="334.4" y="294" font-size="8" text-anchor="start" font-weight="normal" font-family='"Liberation Serif", serif' fill="#111">hIgG</text>
<text x="309.1" y="352" font-size="8" text-anchor="start" font-weight="normal" font-family='"Liberation Serif", serif' fill="#111">DC-HIL-Fc</text>
<text transform="translate(1.51 11.35) scale(0.93 1)" font-size="14.6" font-weight="bold" font-family='"Liberation Sans", sans-serif' fill="#000" style="stroke:none">A</text>
<text transform="translate(133.24 12.55) scale(0.93 1)" font-size="14.6" font-weight="bold" font-family='"Liberation Sans", sans-serif' fill="#000" style="stroke:none">B</text>
<text transform="translate(264.19 12.75) scale(0.93 1)" font-size="14.6" font-weight="bold" font-family='"Liberation Sans", sans-serif' fill="#000" style="stroke:none">C</text>
<text transform="translate(394.54 12.55) scale(0.93 1)" font-size="14.6" font-weight="bold" font-family='"Liberation Sans", sans-serif' fill="#000" style="stroke:none">D</text>
<text transform="translate(1.94 143.15) scale(0.93 1)" font-size="14.6" font-weight="bold" font-family='"Liberation Sans", sans-serif' fill="#000" style="stroke:none">E</text>
<text transform="translate(133.64 143.25) scale(0.93 1)" font-size="14.6" font-weight="bold" font-family='"Liberation Sans", sans-serif' fill="#000" style="stroke:none">F</text>
<text transform="translate(263.69 144.85) scale(0.93 1)" font-size="14.6" font-weight="bold" font-family='"Liberation Sans", sans-serif' fill="#000" style="stroke:none">G</text>
<text transform="translate(1.44 275.25) scale(0.93 1)" font-size="14.6" font-weight="bold" font-family='"Liberation Sans", sans-serif' fill="#000" style="stroke:none">H</text>
<text transform="translate(135.64 275.25) scale(0.93 1)" font-size="14.6" font-weight="bold" font-family='"Liberation Sans", sans-serif' fill="#000" style="stroke:none">I</text>
<text transform="translate(265.35 274.95) scale(0.93 1)" font-size="14.6" font-weight="bold" font-family='"Liberation Sans", sans-serif' fill="#000" style="stroke:none">J</text>
<text x="75.2" y="13.8" font-size="8" text-anchor="middle" font-family='"Liberation Serif", serif' fill="#111">CD4<tspan dy="-3.1" font-size="6">+</tspan><tspan dy="3.1"> T cells</tspan></text>
<text x="204" y="13.8" font-size="8" text-anchor="middle" font-family='"Liberation Serif", serif' fill="#111">CD4<tspan dy="-3.1" font-size="6">+</tspan><tspan dy="3.1"> T cells</tspan></text>
<text x="341" y="13.8" font-size="8" text-anchor="middle" font-family='"Liberation Serif", serif' fill="#111">CD8<tspan dy="-3.1" font-size="6">+</tspan><tspan dy="3.1"> T cells</tspan></text>
<text x="466" y="13.8" font-size="8" text-anchor="middle" font-family='"Liberation Serif", serif' fill="#111">CD8<tspan dy="-3.1" font-size="6">+</tspan><tspan dy="3.1"> T cells</tspan></text>
<text x="74.1" y="130" font-size="8.25" text-anchor="middle" font-weight="normal" font-family='"Liberation Serif", serif' fill="#111">αCD3 Ab (μg/mL)</text>
<text x="207" y="130" font-size="8.25" text-anchor="middle" font-weight="normal" font-family='"Liberation Serif", serif' fill="#111">αCD3 Ab (μg/mL)</text>
<text x="339" y="130" font-size="8.25" text-anchor="middle" font-weight="normal" font-family='"Liberation Serif", serif' fill="#111">αCD3 Ab (μg/mL)</text>
<text x="470" y="130" font-size="8.25" text-anchor="middle" font-weight="normal" font-family='"Liberation Serif", serif' fill="#111">αCD3 Ab (μg/mL)</text>
<text x="73.6" y="144.3" font-size="8.25" text-anchor="middle" font-weight="normal" font-family='"Liberation Serif", serif' fill="#111">αCD3 Ab (0.3 μg/mL)</text>
<text x="76" y="258.3" font-size="8.25" text-anchor="middle" font-weight="normal" font-family='"Liberation Serif", serif' fill="#111">Fc protein (μg/mL)</text>
<text x="210" y="258.5" font-size="8.25" text-anchor="middle" font-weight="normal" font-family='"Liberation Serif", serif' fill="#111">αCD28 Ab (μg/mL)</text>
<text x="338.75" y="258.5" font-size="8.25" text-anchor="middle" font-weight="normal" font-family='"Liberation Serif", serif' fill="#111">αCD3 Ab (μg/mL)</text>
<text x="207" y="276" font-size="8.25" text-anchor="middle" font-weight="normal" font-family='"Liberation Serif", serif' fill="#111">αCD3 Ab (1 μg/mL)</text>
<text x="336" y="276" font-size="8.25" text-anchor="middle" font-weight="normal" font-family='"Liberation Serif", serif' fill="#111">αCD3 Ab (1 μg/mL)</text>
<text x="75" y="386" font-size="8.25" text-anchor="middle" font-weight="normal" font-family='"Liberation Serif", serif' fill="#111">αCD3 Ab (μg/mL)</text>
<text x="208" y="386" font-size="8.25" text-anchor="middle" font-weight="normal" font-family='"Liberation Serif", serif' fill="#111">Fc protein (μg/mL)</text>
<text x="336" y="386" font-size="8.25" text-anchor="middle" font-weight="normal" font-family='"Liberation Serif", serif' fill="#111">Fc protein (μg/mL)</text>
<text x="7.6" y="63.5" font-size="8.1" text-anchor="middle" font-family='"Liberation Serif", serif' fill="#111" transform="rotate(-90 7.6 63.5)">Proliferation (x 10<tspan dy="-2.6" font-size="4.8">3</tspan><tspan dy="2.6"> cpm)</tspan></text>
<text x="140.7" y="60" font-size="8.0" text-anchor="middle" font-family='"Liberation Serif", serif' fill="#111" transform="rotate(-90 140.7 60)">IL-2 (ng/ml)</text>
<text x="272.6" y="63.8" font-size="8.1" text-anchor="middle" font-family='"Liberation Serif", serif' fill="#111" transform="rotate(-90 272.6 63.8)">Proliferation (x 10<tspan dy="-2.6" font-size="4.8">3</tspan><tspan dy="2.6"> cpm)</tspan></text>
<text x="402.6" y="52.7" font-size="8.0" text-anchor="middle" font-family='"Liberation Serif", serif' fill="#111" transform="rotate(-90 402.6 52.7)">IL-2 (ng/ml)</text>
<text x="9.3" y="192.3" font-size="8.1" text-anchor="middle" font-family='"Liberation Serif", serif' fill="#111" transform="rotate(-90 9.3 192.3)">Proliferation (x 10<tspan dy="-2.6" font-size="4.8">4</tspan><tspan dy="2.6"> cpm)</tspan></text>
<text x="141" y="193.2" font-size="8.1" text-anchor="middle" font-family='"Liberation Serif", serif' fill="#111" transform="rotate(-90 141 193.2)">Proliferation (x 10<tspan dy="-2.6" font-size="4.8">3</tspan><tspan dy="2.6"> cpm)</tspan></text>
<text x="272.4" y="192" font-size="8.1" text-anchor="middle" font-family='"Liberation Serif", serif' fill="#111" transform="rotate(-90 272.4 192)">Proliferation (x 10<tspan dy="-2.6" font-size="4.8">4</tspan><tspan dy="2.6"> cpm)</tspan></text>
<text x="7.3" y="316.4" font-size="8.0" text-anchor="middle" font-family='"Liberation Serif", serif' fill="#111" transform="rotate(-90 7.3 316.4)">IL-2 (ng/mL)</text>
<text x="140.8" y="323.1" font-size="8.1" text-anchor="middle" font-family='"Liberation Serif", serif' fill="#111" transform="rotate(-90 140.8 323.1)">Proliferation (x 10<tspan dy="-2.6" font-size="4.8">4</tspan><tspan dy="2.6"> cpm)</tspan></text>
<text x="271.6" y="321.9" font-size="8.0" text-anchor="middle" font-family='"Liberation Serif", serif' fill="#111" transform="rotate(-90 271.6 321.9)">IL-2 (ng/ml)</text>
<line x1="199.3" y1="211.2" x2="207.5" y2="211.2" stroke="#111" stroke-width="1.2"/>
<polygon points="203.4,208.9 205.6,212.9 201.2,212.9" fill="#fff" stroke="#111" stroke-width="1.2" stroke-linejoin="miter"/>
<text x="209.3" y="213.1" font-size="8" text-anchor="start" font-weight="normal" font-family='"Liberation Serif", serif' fill="#111">αCD3 alone</text>
<line x1="199.3" y1="220.4" x2="207.5" y2="220.4" stroke="#111" stroke-width="1.2"/>
<circle cx="203.4" cy="220.4" r="2" fill="#fff" stroke="#111" stroke-width="1.3"/>
<text x="209.3" y="222.6" font-size="8" text-anchor="start" font-weight="normal" font-family='"Liberation Serif", serif' fill="#111">hIgG</text>
<line x1="199.3" y1="229.8" x2="207.5" y2="229.8" stroke="#111" stroke-width="1.2"/>
<ellipse cx="203.4" cy="229.8" rx="2.85" ry="2.55" fill="#111"/>
<text x="209.3" y="232" font-size="8" text-anchor="start" font-weight="normal" font-family='"Liberation Serif", serif' fill="#111">DC-HIL-Fc</text>
</svg></body></html>
